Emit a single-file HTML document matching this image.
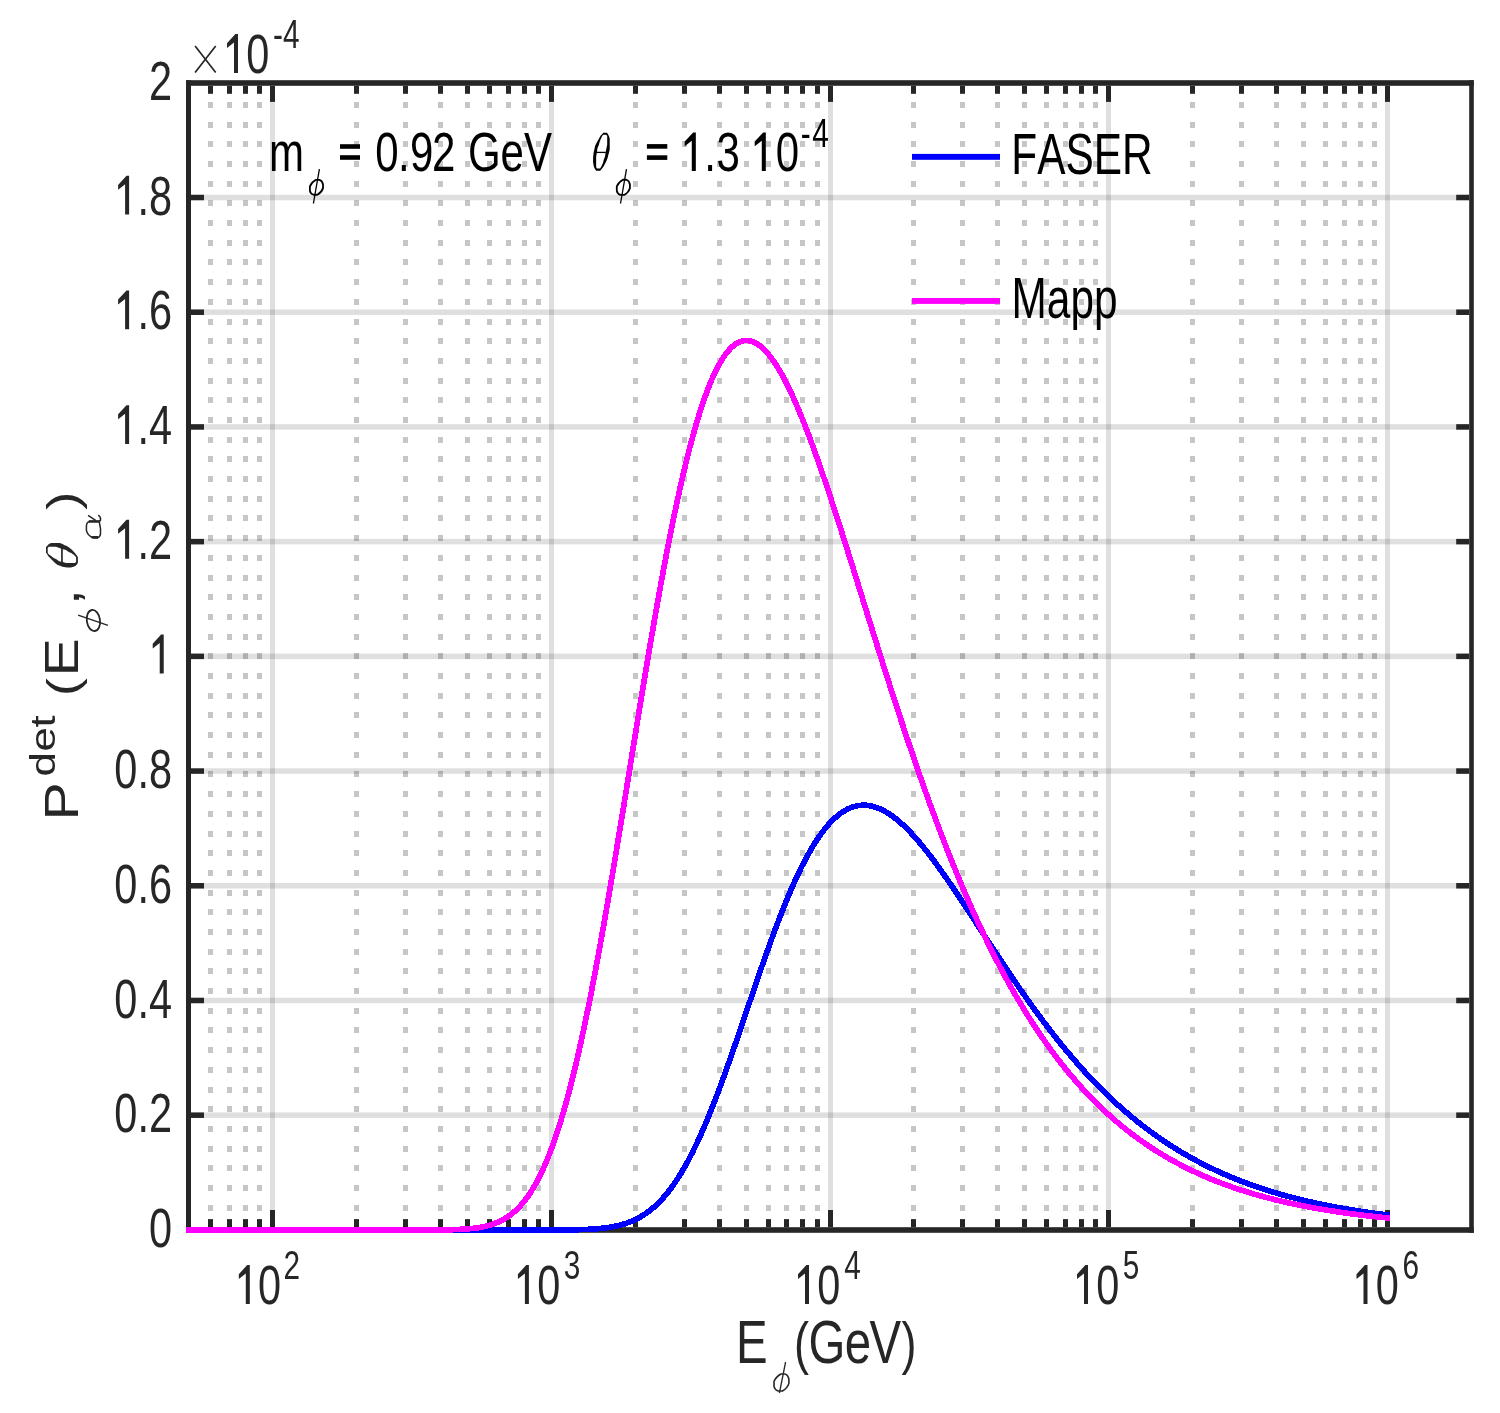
<!DOCTYPE html>
<html><head><meta charset="utf-8"><title>plot</title><style>
html,body{margin:0;padding:0;background:#fff;}
svg{display:block;will-change:transform;}
text{font-family:"Liberation Sans",sans-serif;}
</style></head><body>
<svg width="1500" height="1413" viewBox="0 0 1500 1413">
<rect x="0" y="0" width="1500" height="1413" fill="#ffffff"/>
<g fill="#262626" fill-opacity="0.15"><rect x="270" y="86" width="5" height="1141"/><rect x="549" y="86" width="5" height="1141"/><rect x="828" y="86" width="5" height="1141"/><rect x="1106" y="86" width="5" height="1141"/><rect x="1385" y="86" width="5" height="1141"/><rect x="191.0" y="1112.44" width="1278.2" height="5.5"/><rect x="191.0" y="997.73" width="1278.2" height="5.5"/><rect x="191.0" y="883.02" width="1278.2" height="5.5"/><rect x="191.0" y="768.31" width="1278.2" height="5.5"/><rect x="191.0" y="653.60" width="1278.2" height="5.5"/><rect x="191.0" y="538.89" width="1278.2" height="5.5"/><rect x="191.0" y="424.18" width="1278.2" height="5.5"/><rect x="191.0" y="309.47" width="1278.2" height="5.5"/><rect x="191.0" y="194.76" width="1278.2" height="5.5"/></g>
<g fill="#1a1a1a" fill-opacity="0.25" shape-rendering="crispEdges"><rect x="208" y="102" width="5" height="6"/><rect x="208" y="122" width="5" height="6"/><rect x="208" y="141" width="5" height="6"/><rect x="208" y="161" width="5" height="6"/><rect x="208" y="181" width="5" height="6"/><rect x="208" y="200" width="5" height="6"/><rect x="208" y="220" width="5" height="6"/><rect x="208" y="240" width="5" height="6"/><rect x="208" y="259" width="5" height="6"/><rect x="208" y="279" width="5" height="6"/><rect x="208" y="299" width="5" height="6"/><rect x="208" y="319" width="5" height="6"/><rect x="208" y="338" width="5" height="6"/><rect x="208" y="358" width="5" height="6"/><rect x="208" y="378" width="5" height="6"/><rect x="208" y="397" width="5" height="6"/><rect x="208" y="417" width="5" height="6"/><rect x="208" y="437" width="5" height="6"/><rect x="208" y="456" width="5" height="6"/><rect x="208" y="476" width="5" height="6"/><rect x="208" y="496" width="5" height="6"/><rect x="208" y="515" width="5" height="6"/><rect x="208" y="535" width="5" height="6"/><rect x="208" y="555" width="5" height="6"/><rect x="208" y="575" width="5" height="6"/><rect x="208" y="594" width="5" height="6"/><rect x="208" y="614" width="5" height="6"/><rect x="208" y="634" width="5" height="6"/><rect x="208" y="653" width="5" height="6"/><rect x="208" y="673" width="5" height="6"/><rect x="208" y="693" width="5" height="6"/><rect x="208" y="712" width="5" height="6"/><rect x="208" y="732" width="5" height="6"/><rect x="208" y="752" width="5" height="6"/><rect x="208" y="771" width="5" height="6"/><rect x="208" y="791" width="5" height="6"/><rect x="208" y="811" width="5" height="6"/><rect x="208" y="831" width="5" height="6"/><rect x="208" y="850" width="5" height="6"/><rect x="208" y="870" width="5" height="6"/><rect x="208" y="890" width="5" height="6"/><rect x="208" y="909" width="5" height="6"/><rect x="208" y="929" width="5" height="6"/><rect x="208" y="949" width="5" height="6"/><rect x="208" y="968" width="5" height="6"/><rect x="208" y="988" width="5" height="6"/><rect x="208" y="1008" width="5" height="6"/><rect x="208" y="1027" width="5" height="6"/><rect x="208" y="1047" width="5" height="6"/><rect x="208" y="1067" width="5" height="6"/><rect x="208" y="1087" width="5" height="6"/><rect x="208" y="1106" width="5" height="6"/><rect x="208" y="1126" width="5" height="6"/><rect x="208" y="1146" width="5" height="6"/><rect x="208" y="1165" width="5" height="6"/><rect x="208" y="1185" width="5" height="6"/><rect x="208" y="1205" width="5" height="6"/><rect x="227" y="102" width="5" height="6"/><rect x="227" y="122" width="5" height="6"/><rect x="227" y="141" width="5" height="6"/><rect x="227" y="161" width="5" height="6"/><rect x="227" y="181" width="5" height="6"/><rect x="227" y="200" width="5" height="6"/><rect x="227" y="220" width="5" height="6"/><rect x="227" y="240" width="5" height="6"/><rect x="227" y="259" width="5" height="6"/><rect x="227" y="279" width="5" height="6"/><rect x="227" y="299" width="5" height="6"/><rect x="227" y="319" width="5" height="6"/><rect x="227" y="338" width="5" height="6"/><rect x="227" y="358" width="5" height="6"/><rect x="227" y="378" width="5" height="6"/><rect x="227" y="397" width="5" height="6"/><rect x="227" y="417" width="5" height="6"/><rect x="227" y="437" width="5" height="6"/><rect x="227" y="456" width="5" height="6"/><rect x="227" y="476" width="5" height="6"/><rect x="227" y="496" width="5" height="6"/><rect x="227" y="515" width="5" height="6"/><rect x="227" y="535" width="5" height="6"/><rect x="227" y="555" width="5" height="6"/><rect x="227" y="575" width="5" height="6"/><rect x="227" y="594" width="5" height="6"/><rect x="227" y="614" width="5" height="6"/><rect x="227" y="634" width="5" height="6"/><rect x="227" y="653" width="5" height="6"/><rect x="227" y="673" width="5" height="6"/><rect x="227" y="693" width="5" height="6"/><rect x="227" y="712" width="5" height="6"/><rect x="227" y="732" width="5" height="6"/><rect x="227" y="752" width="5" height="6"/><rect x="227" y="771" width="5" height="6"/><rect x="227" y="791" width="5" height="6"/><rect x="227" y="811" width="5" height="6"/><rect x="227" y="831" width="5" height="6"/><rect x="227" y="850" width="5" height="6"/><rect x="227" y="870" width="5" height="6"/><rect x="227" y="890" width="5" height="6"/><rect x="227" y="909" width="5" height="6"/><rect x="227" y="929" width="5" height="6"/><rect x="227" y="949" width="5" height="6"/><rect x="227" y="968" width="5" height="6"/><rect x="227" y="988" width="5" height="6"/><rect x="227" y="1008" width="5" height="6"/><rect x="227" y="1027" width="5" height="6"/><rect x="227" y="1047" width="5" height="6"/><rect x="227" y="1067" width="5" height="6"/><rect x="227" y="1087" width="5" height="6"/><rect x="227" y="1106" width="5" height="6"/><rect x="227" y="1126" width="5" height="6"/><rect x="227" y="1146" width="5" height="6"/><rect x="227" y="1165" width="5" height="6"/><rect x="227" y="1185" width="5" height="6"/><rect x="227" y="1205" width="5" height="6"/><rect x="243" y="102" width="5" height="6"/><rect x="243" y="122" width="5" height="6"/><rect x="243" y="141" width="5" height="6"/><rect x="243" y="161" width="5" height="6"/><rect x="243" y="181" width="5" height="6"/><rect x="243" y="200" width="5" height="6"/><rect x="243" y="220" width="5" height="6"/><rect x="243" y="240" width="5" height="6"/><rect x="243" y="259" width="5" height="6"/><rect x="243" y="279" width="5" height="6"/><rect x="243" y="299" width="5" height="6"/><rect x="243" y="319" width="5" height="6"/><rect x="243" y="338" width="5" height="6"/><rect x="243" y="358" width="5" height="6"/><rect x="243" y="378" width="5" height="6"/><rect x="243" y="397" width="5" height="6"/><rect x="243" y="417" width="5" height="6"/><rect x="243" y="437" width="5" height="6"/><rect x="243" y="456" width="5" height="6"/><rect x="243" y="476" width="5" height="6"/><rect x="243" y="496" width="5" height="6"/><rect x="243" y="515" width="5" height="6"/><rect x="243" y="535" width="5" height="6"/><rect x="243" y="555" width="5" height="6"/><rect x="243" y="575" width="5" height="6"/><rect x="243" y="594" width="5" height="6"/><rect x="243" y="614" width="5" height="6"/><rect x="243" y="634" width="5" height="6"/><rect x="243" y="653" width="5" height="6"/><rect x="243" y="673" width="5" height="6"/><rect x="243" y="693" width="5" height="6"/><rect x="243" y="712" width="5" height="6"/><rect x="243" y="732" width="5" height="6"/><rect x="243" y="752" width="5" height="6"/><rect x="243" y="771" width="5" height="6"/><rect x="243" y="791" width="5" height="6"/><rect x="243" y="811" width="5" height="6"/><rect x="243" y="831" width="5" height="6"/><rect x="243" y="850" width="5" height="6"/><rect x="243" y="870" width="5" height="6"/><rect x="243" y="890" width="5" height="6"/><rect x="243" y="909" width="5" height="6"/><rect x="243" y="929" width="5" height="6"/><rect x="243" y="949" width="5" height="6"/><rect x="243" y="968" width="5" height="6"/><rect x="243" y="988" width="5" height="6"/><rect x="243" y="1008" width="5" height="6"/><rect x="243" y="1027" width="5" height="6"/><rect x="243" y="1047" width="5" height="6"/><rect x="243" y="1067" width="5" height="6"/><rect x="243" y="1087" width="5" height="6"/><rect x="243" y="1106" width="5" height="6"/><rect x="243" y="1126" width="5" height="6"/><rect x="243" y="1146" width="5" height="6"/><rect x="243" y="1165" width="5" height="6"/><rect x="243" y="1185" width="5" height="6"/><rect x="243" y="1205" width="5" height="6"/><rect x="257" y="102" width="5" height="6"/><rect x="257" y="122" width="5" height="6"/><rect x="257" y="141" width="5" height="6"/><rect x="257" y="161" width="5" height="6"/><rect x="257" y="181" width="5" height="6"/><rect x="257" y="200" width="5" height="6"/><rect x="257" y="220" width="5" height="6"/><rect x="257" y="240" width="5" height="6"/><rect x="257" y="259" width="5" height="6"/><rect x="257" y="279" width="5" height="6"/><rect x="257" y="299" width="5" height="6"/><rect x="257" y="319" width="5" height="6"/><rect x="257" y="338" width="5" height="6"/><rect x="257" y="358" width="5" height="6"/><rect x="257" y="378" width="5" height="6"/><rect x="257" y="397" width="5" height="6"/><rect x="257" y="417" width="5" height="6"/><rect x="257" y="437" width="5" height="6"/><rect x="257" y="456" width="5" height="6"/><rect x="257" y="476" width="5" height="6"/><rect x="257" y="496" width="5" height="6"/><rect x="257" y="515" width="5" height="6"/><rect x="257" y="535" width="5" height="6"/><rect x="257" y="555" width="5" height="6"/><rect x="257" y="575" width="5" height="6"/><rect x="257" y="594" width="5" height="6"/><rect x="257" y="614" width="5" height="6"/><rect x="257" y="634" width="5" height="6"/><rect x="257" y="653" width="5" height="6"/><rect x="257" y="673" width="5" height="6"/><rect x="257" y="693" width="5" height="6"/><rect x="257" y="712" width="5" height="6"/><rect x="257" y="732" width="5" height="6"/><rect x="257" y="752" width="5" height="6"/><rect x="257" y="771" width="5" height="6"/><rect x="257" y="791" width="5" height="6"/><rect x="257" y="811" width="5" height="6"/><rect x="257" y="831" width="5" height="6"/><rect x="257" y="850" width="5" height="6"/><rect x="257" y="870" width="5" height="6"/><rect x="257" y="890" width="5" height="6"/><rect x="257" y="909" width="5" height="6"/><rect x="257" y="929" width="5" height="6"/><rect x="257" y="949" width="5" height="6"/><rect x="257" y="968" width="5" height="6"/><rect x="257" y="988" width="5" height="6"/><rect x="257" y="1008" width="5" height="6"/><rect x="257" y="1027" width="5" height="6"/><rect x="257" y="1047" width="5" height="6"/><rect x="257" y="1067" width="5" height="6"/><rect x="257" y="1087" width="5" height="6"/><rect x="257" y="1106" width="5" height="6"/><rect x="257" y="1126" width="5" height="6"/><rect x="257" y="1146" width="5" height="6"/><rect x="257" y="1165" width="5" height="6"/><rect x="257" y="1185" width="5" height="6"/><rect x="257" y="1205" width="5" height="6"/><rect x="354" y="102" width="5" height="6"/><rect x="354" y="122" width="5" height="6"/><rect x="354" y="141" width="5" height="6"/><rect x="354" y="161" width="5" height="6"/><rect x="354" y="181" width="5" height="6"/><rect x="354" y="200" width="5" height="6"/><rect x="354" y="220" width="5" height="6"/><rect x="354" y="240" width="5" height="6"/><rect x="354" y="259" width="5" height="6"/><rect x="354" y="279" width="5" height="6"/><rect x="354" y="299" width="5" height="6"/><rect x="354" y="319" width="5" height="6"/><rect x="354" y="338" width="5" height="6"/><rect x="354" y="358" width="5" height="6"/><rect x="354" y="378" width="5" height="6"/><rect x="354" y="397" width="5" height="6"/><rect x="354" y="417" width="5" height="6"/><rect x="354" y="437" width="5" height="6"/><rect x="354" y="456" width="5" height="6"/><rect x="354" y="476" width="5" height="6"/><rect x="354" y="496" width="5" height="6"/><rect x="354" y="515" width="5" height="6"/><rect x="354" y="535" width="5" height="6"/><rect x="354" y="555" width="5" height="6"/><rect x="354" y="575" width="5" height="6"/><rect x="354" y="594" width="5" height="6"/><rect x="354" y="614" width="5" height="6"/><rect x="354" y="634" width="5" height="6"/><rect x="354" y="653" width="5" height="6"/><rect x="354" y="673" width="5" height="6"/><rect x="354" y="693" width="5" height="6"/><rect x="354" y="712" width="5" height="6"/><rect x="354" y="732" width="5" height="6"/><rect x="354" y="752" width="5" height="6"/><rect x="354" y="771" width="5" height="6"/><rect x="354" y="791" width="5" height="6"/><rect x="354" y="811" width="5" height="6"/><rect x="354" y="831" width="5" height="6"/><rect x="354" y="850" width="5" height="6"/><rect x="354" y="870" width="5" height="6"/><rect x="354" y="890" width="5" height="6"/><rect x="354" y="909" width="5" height="6"/><rect x="354" y="929" width="5" height="6"/><rect x="354" y="949" width="5" height="6"/><rect x="354" y="968" width="5" height="6"/><rect x="354" y="988" width="5" height="6"/><rect x="354" y="1008" width="5" height="6"/><rect x="354" y="1027" width="5" height="6"/><rect x="354" y="1047" width="5" height="6"/><rect x="354" y="1067" width="5" height="6"/><rect x="354" y="1087" width="5" height="6"/><rect x="354" y="1106" width="5" height="6"/><rect x="354" y="1126" width="5" height="6"/><rect x="354" y="1146" width="5" height="6"/><rect x="354" y="1165" width="5" height="6"/><rect x="354" y="1185" width="5" height="6"/><rect x="354" y="1205" width="5" height="6"/><rect x="403" y="102" width="5" height="6"/><rect x="403" y="122" width="5" height="6"/><rect x="403" y="141" width="5" height="6"/><rect x="403" y="161" width="5" height="6"/><rect x="403" y="181" width="5" height="6"/><rect x="403" y="200" width="5" height="6"/><rect x="403" y="220" width="5" height="6"/><rect x="403" y="240" width="5" height="6"/><rect x="403" y="259" width="5" height="6"/><rect x="403" y="279" width="5" height="6"/><rect x="403" y="299" width="5" height="6"/><rect x="403" y="319" width="5" height="6"/><rect x="403" y="338" width="5" height="6"/><rect x="403" y="358" width="5" height="6"/><rect x="403" y="378" width="5" height="6"/><rect x="403" y="397" width="5" height="6"/><rect x="403" y="417" width="5" height="6"/><rect x="403" y="437" width="5" height="6"/><rect x="403" y="456" width="5" height="6"/><rect x="403" y="476" width="5" height="6"/><rect x="403" y="496" width="5" height="6"/><rect x="403" y="515" width="5" height="6"/><rect x="403" y="535" width="5" height="6"/><rect x="403" y="555" width="5" height="6"/><rect x="403" y="575" width="5" height="6"/><rect x="403" y="594" width="5" height="6"/><rect x="403" y="614" width="5" height="6"/><rect x="403" y="634" width="5" height="6"/><rect x="403" y="653" width="5" height="6"/><rect x="403" y="673" width="5" height="6"/><rect x="403" y="693" width="5" height="6"/><rect x="403" y="712" width="5" height="6"/><rect x="403" y="732" width="5" height="6"/><rect x="403" y="752" width="5" height="6"/><rect x="403" y="771" width="5" height="6"/><rect x="403" y="791" width="5" height="6"/><rect x="403" y="811" width="5" height="6"/><rect x="403" y="831" width="5" height="6"/><rect x="403" y="850" width="5" height="6"/><rect x="403" y="870" width="5" height="6"/><rect x="403" y="890" width="5" height="6"/><rect x="403" y="909" width="5" height="6"/><rect x="403" y="929" width="5" height="6"/><rect x="403" y="949" width="5" height="6"/><rect x="403" y="968" width="5" height="6"/><rect x="403" y="988" width="5" height="6"/><rect x="403" y="1008" width="5" height="6"/><rect x="403" y="1027" width="5" height="6"/><rect x="403" y="1047" width="5" height="6"/><rect x="403" y="1067" width="5" height="6"/><rect x="403" y="1087" width="5" height="6"/><rect x="403" y="1106" width="5" height="6"/><rect x="403" y="1126" width="5" height="6"/><rect x="403" y="1146" width="5" height="6"/><rect x="403" y="1165" width="5" height="6"/><rect x="403" y="1185" width="5" height="6"/><rect x="403" y="1205" width="5" height="6"/><rect x="438" y="102" width="5" height="6"/><rect x="438" y="122" width="5" height="6"/><rect x="438" y="141" width="5" height="6"/><rect x="438" y="161" width="5" height="6"/><rect x="438" y="181" width="5" height="6"/><rect x="438" y="200" width="5" height="6"/><rect x="438" y="220" width="5" height="6"/><rect x="438" y="240" width="5" height="6"/><rect x="438" y="259" width="5" height="6"/><rect x="438" y="279" width="5" height="6"/><rect x="438" y="299" width="5" height="6"/><rect x="438" y="319" width="5" height="6"/><rect x="438" y="338" width="5" height="6"/><rect x="438" y="358" width="5" height="6"/><rect x="438" y="378" width="5" height="6"/><rect x="438" y="397" width="5" height="6"/><rect x="438" y="417" width="5" height="6"/><rect x="438" y="437" width="5" height="6"/><rect x="438" y="456" width="5" height="6"/><rect x="438" y="476" width="5" height="6"/><rect x="438" y="496" width="5" height="6"/><rect x="438" y="515" width="5" height="6"/><rect x="438" y="535" width="5" height="6"/><rect x="438" y="555" width="5" height="6"/><rect x="438" y="575" width="5" height="6"/><rect x="438" y="594" width="5" height="6"/><rect x="438" y="614" width="5" height="6"/><rect x="438" y="634" width="5" height="6"/><rect x="438" y="653" width="5" height="6"/><rect x="438" y="673" width="5" height="6"/><rect x="438" y="693" width="5" height="6"/><rect x="438" y="712" width="5" height="6"/><rect x="438" y="732" width="5" height="6"/><rect x="438" y="752" width="5" height="6"/><rect x="438" y="771" width="5" height="6"/><rect x="438" y="791" width="5" height="6"/><rect x="438" y="811" width="5" height="6"/><rect x="438" y="831" width="5" height="6"/><rect x="438" y="850" width="5" height="6"/><rect x="438" y="870" width="5" height="6"/><rect x="438" y="890" width="5" height="6"/><rect x="438" y="909" width="5" height="6"/><rect x="438" y="929" width="5" height="6"/><rect x="438" y="949" width="5" height="6"/><rect x="438" y="968" width="5" height="6"/><rect x="438" y="988" width="5" height="6"/><rect x="438" y="1008" width="5" height="6"/><rect x="438" y="1027" width="5" height="6"/><rect x="438" y="1047" width="5" height="6"/><rect x="438" y="1067" width="5" height="6"/><rect x="438" y="1087" width="5" height="6"/><rect x="438" y="1106" width="5" height="6"/><rect x="438" y="1126" width="5" height="6"/><rect x="438" y="1146" width="5" height="6"/><rect x="438" y="1165" width="5" height="6"/><rect x="438" y="1185" width="5" height="6"/><rect x="438" y="1205" width="5" height="6"/><rect x="465" y="102" width="5" height="6"/><rect x="465" y="122" width="5" height="6"/><rect x="465" y="141" width="5" height="6"/><rect x="465" y="161" width="5" height="6"/><rect x="465" y="181" width="5" height="6"/><rect x="465" y="200" width="5" height="6"/><rect x="465" y="220" width="5" height="6"/><rect x="465" y="240" width="5" height="6"/><rect x="465" y="259" width="5" height="6"/><rect x="465" y="279" width="5" height="6"/><rect x="465" y="299" width="5" height="6"/><rect x="465" y="319" width="5" height="6"/><rect x="465" y="338" width="5" height="6"/><rect x="465" y="358" width="5" height="6"/><rect x="465" y="378" width="5" height="6"/><rect x="465" y="397" width="5" height="6"/><rect x="465" y="417" width="5" height="6"/><rect x="465" y="437" width="5" height="6"/><rect x="465" y="456" width="5" height="6"/><rect x="465" y="476" width="5" height="6"/><rect x="465" y="496" width="5" height="6"/><rect x="465" y="515" width="5" height="6"/><rect x="465" y="535" width="5" height="6"/><rect x="465" y="555" width="5" height="6"/><rect x="465" y="575" width="5" height="6"/><rect x="465" y="594" width="5" height="6"/><rect x="465" y="614" width="5" height="6"/><rect x="465" y="634" width="5" height="6"/><rect x="465" y="653" width="5" height="6"/><rect x="465" y="673" width="5" height="6"/><rect x="465" y="693" width="5" height="6"/><rect x="465" y="712" width="5" height="6"/><rect x="465" y="732" width="5" height="6"/><rect x="465" y="752" width="5" height="6"/><rect x="465" y="771" width="5" height="6"/><rect x="465" y="791" width="5" height="6"/><rect x="465" y="811" width="5" height="6"/><rect x="465" y="831" width="5" height="6"/><rect x="465" y="850" width="5" height="6"/><rect x="465" y="870" width="5" height="6"/><rect x="465" y="890" width="5" height="6"/><rect x="465" y="909" width="5" height="6"/><rect x="465" y="929" width="5" height="6"/><rect x="465" y="949" width="5" height="6"/><rect x="465" y="968" width="5" height="6"/><rect x="465" y="988" width="5" height="6"/><rect x="465" y="1008" width="5" height="6"/><rect x="465" y="1027" width="5" height="6"/><rect x="465" y="1047" width="5" height="6"/><rect x="465" y="1067" width="5" height="6"/><rect x="465" y="1087" width="5" height="6"/><rect x="465" y="1106" width="5" height="6"/><rect x="465" y="1126" width="5" height="6"/><rect x="465" y="1146" width="5" height="6"/><rect x="465" y="1165" width="5" height="6"/><rect x="465" y="1185" width="5" height="6"/><rect x="465" y="1205" width="5" height="6"/><rect x="487" y="102" width="5" height="6"/><rect x="487" y="122" width="5" height="6"/><rect x="487" y="141" width="5" height="6"/><rect x="487" y="161" width="5" height="6"/><rect x="487" y="181" width="5" height="6"/><rect x="487" y="200" width="5" height="6"/><rect x="487" y="220" width="5" height="6"/><rect x="487" y="240" width="5" height="6"/><rect x="487" y="259" width="5" height="6"/><rect x="487" y="279" width="5" height="6"/><rect x="487" y="299" width="5" height="6"/><rect x="487" y="319" width="5" height="6"/><rect x="487" y="338" width="5" height="6"/><rect x="487" y="358" width="5" height="6"/><rect x="487" y="378" width="5" height="6"/><rect x="487" y="397" width="5" height="6"/><rect x="487" y="417" width="5" height="6"/><rect x="487" y="437" width="5" height="6"/><rect x="487" y="456" width="5" height="6"/><rect x="487" y="476" width="5" height="6"/><rect x="487" y="496" width="5" height="6"/><rect x="487" y="515" width="5" height="6"/><rect x="487" y="535" width="5" height="6"/><rect x="487" y="555" width="5" height="6"/><rect x="487" y="575" width="5" height="6"/><rect x="487" y="594" width="5" height="6"/><rect x="487" y="614" width="5" height="6"/><rect x="487" y="634" width="5" height="6"/><rect x="487" y="653" width="5" height="6"/><rect x="487" y="673" width="5" height="6"/><rect x="487" y="693" width="5" height="6"/><rect x="487" y="712" width="5" height="6"/><rect x="487" y="732" width="5" height="6"/><rect x="487" y="752" width="5" height="6"/><rect x="487" y="771" width="5" height="6"/><rect x="487" y="791" width="5" height="6"/><rect x="487" y="811" width="5" height="6"/><rect x="487" y="831" width="5" height="6"/><rect x="487" y="850" width="5" height="6"/><rect x="487" y="870" width="5" height="6"/><rect x="487" y="890" width="5" height="6"/><rect x="487" y="909" width="5" height="6"/><rect x="487" y="929" width="5" height="6"/><rect x="487" y="949" width="5" height="6"/><rect x="487" y="968" width="5" height="6"/><rect x="487" y="988" width="5" height="6"/><rect x="487" y="1008" width="5" height="6"/><rect x="487" y="1027" width="5" height="6"/><rect x="487" y="1047" width="5" height="6"/><rect x="487" y="1067" width="5" height="6"/><rect x="487" y="1087" width="5" height="6"/><rect x="487" y="1106" width="5" height="6"/><rect x="487" y="1126" width="5" height="6"/><rect x="487" y="1146" width="5" height="6"/><rect x="487" y="1165" width="5" height="6"/><rect x="487" y="1185" width="5" height="6"/><rect x="487" y="1205" width="5" height="6"/><rect x="506" y="102" width="5" height="6"/><rect x="506" y="122" width="5" height="6"/><rect x="506" y="141" width="5" height="6"/><rect x="506" y="161" width="5" height="6"/><rect x="506" y="181" width="5" height="6"/><rect x="506" y="200" width="5" height="6"/><rect x="506" y="220" width="5" height="6"/><rect x="506" y="240" width="5" height="6"/><rect x="506" y="259" width="5" height="6"/><rect x="506" y="279" width="5" height="6"/><rect x="506" y="299" width="5" height="6"/><rect x="506" y="319" width="5" height="6"/><rect x="506" y="338" width="5" height="6"/><rect x="506" y="358" width="5" height="6"/><rect x="506" y="378" width="5" height="6"/><rect x="506" y="397" width="5" height="6"/><rect x="506" y="417" width="5" height="6"/><rect x="506" y="437" width="5" height="6"/><rect x="506" y="456" width="5" height="6"/><rect x="506" y="476" width="5" height="6"/><rect x="506" y="496" width="5" height="6"/><rect x="506" y="515" width="5" height="6"/><rect x="506" y="535" width="5" height="6"/><rect x="506" y="555" width="5" height="6"/><rect x="506" y="575" width="5" height="6"/><rect x="506" y="594" width="5" height="6"/><rect x="506" y="614" width="5" height="6"/><rect x="506" y="634" width="5" height="6"/><rect x="506" y="653" width="5" height="6"/><rect x="506" y="673" width="5" height="6"/><rect x="506" y="693" width="5" height="6"/><rect x="506" y="712" width="5" height="6"/><rect x="506" y="732" width="5" height="6"/><rect x="506" y="752" width="5" height="6"/><rect x="506" y="771" width="5" height="6"/><rect x="506" y="791" width="5" height="6"/><rect x="506" y="811" width="5" height="6"/><rect x="506" y="831" width="5" height="6"/><rect x="506" y="850" width="5" height="6"/><rect x="506" y="870" width="5" height="6"/><rect x="506" y="890" width="5" height="6"/><rect x="506" y="909" width="5" height="6"/><rect x="506" y="929" width="5" height="6"/><rect x="506" y="949" width="5" height="6"/><rect x="506" y="968" width="5" height="6"/><rect x="506" y="988" width="5" height="6"/><rect x="506" y="1008" width="5" height="6"/><rect x="506" y="1027" width="5" height="6"/><rect x="506" y="1047" width="5" height="6"/><rect x="506" y="1067" width="5" height="6"/><rect x="506" y="1087" width="5" height="6"/><rect x="506" y="1106" width="5" height="6"/><rect x="506" y="1126" width="5" height="6"/><rect x="506" y="1146" width="5" height="6"/><rect x="506" y="1165" width="5" height="6"/><rect x="506" y="1185" width="5" height="6"/><rect x="506" y="1205" width="5" height="6"/><rect x="522" y="102" width="5" height="6"/><rect x="522" y="122" width="5" height="6"/><rect x="522" y="141" width="5" height="6"/><rect x="522" y="161" width="5" height="6"/><rect x="522" y="181" width="5" height="6"/><rect x="522" y="200" width="5" height="6"/><rect x="522" y="220" width="5" height="6"/><rect x="522" y="240" width="5" height="6"/><rect x="522" y="259" width="5" height="6"/><rect x="522" y="279" width="5" height="6"/><rect x="522" y="299" width="5" height="6"/><rect x="522" y="319" width="5" height="6"/><rect x="522" y="338" width="5" height="6"/><rect x="522" y="358" width="5" height="6"/><rect x="522" y="378" width="5" height="6"/><rect x="522" y="397" width="5" height="6"/><rect x="522" y="417" width="5" height="6"/><rect x="522" y="437" width="5" height="6"/><rect x="522" y="456" width="5" height="6"/><rect x="522" y="476" width="5" height="6"/><rect x="522" y="496" width="5" height="6"/><rect x="522" y="515" width="5" height="6"/><rect x="522" y="535" width="5" height="6"/><rect x="522" y="555" width="5" height="6"/><rect x="522" y="575" width="5" height="6"/><rect x="522" y="594" width="5" height="6"/><rect x="522" y="614" width="5" height="6"/><rect x="522" y="634" width="5" height="6"/><rect x="522" y="653" width="5" height="6"/><rect x="522" y="673" width="5" height="6"/><rect x="522" y="693" width="5" height="6"/><rect x="522" y="712" width="5" height="6"/><rect x="522" y="732" width="5" height="6"/><rect x="522" y="752" width="5" height="6"/><rect x="522" y="771" width="5" height="6"/><rect x="522" y="791" width="5" height="6"/><rect x="522" y="811" width="5" height="6"/><rect x="522" y="831" width="5" height="6"/><rect x="522" y="850" width="5" height="6"/><rect x="522" y="870" width="5" height="6"/><rect x="522" y="890" width="5" height="6"/><rect x="522" y="909" width="5" height="6"/><rect x="522" y="929" width="5" height="6"/><rect x="522" y="949" width="5" height="6"/><rect x="522" y="968" width="5" height="6"/><rect x="522" y="988" width="5" height="6"/><rect x="522" y="1008" width="5" height="6"/><rect x="522" y="1027" width="5" height="6"/><rect x="522" y="1047" width="5" height="6"/><rect x="522" y="1067" width="5" height="6"/><rect x="522" y="1087" width="5" height="6"/><rect x="522" y="1106" width="5" height="6"/><rect x="522" y="1126" width="5" height="6"/><rect x="522" y="1146" width="5" height="6"/><rect x="522" y="1165" width="5" height="6"/><rect x="522" y="1185" width="5" height="6"/><rect x="522" y="1205" width="5" height="6"/><rect x="536" y="102" width="5" height="6"/><rect x="536" y="122" width="5" height="6"/><rect x="536" y="141" width="5" height="6"/><rect x="536" y="161" width="5" height="6"/><rect x="536" y="181" width="5" height="6"/><rect x="536" y="200" width="5" height="6"/><rect x="536" y="220" width="5" height="6"/><rect x="536" y="240" width="5" height="6"/><rect x="536" y="259" width="5" height="6"/><rect x="536" y="279" width="5" height="6"/><rect x="536" y="299" width="5" height="6"/><rect x="536" y="319" width="5" height="6"/><rect x="536" y="338" width="5" height="6"/><rect x="536" y="358" width="5" height="6"/><rect x="536" y="378" width="5" height="6"/><rect x="536" y="397" width="5" height="6"/><rect x="536" y="417" width="5" height="6"/><rect x="536" y="437" width="5" height="6"/><rect x="536" y="456" width="5" height="6"/><rect x="536" y="476" width="5" height="6"/><rect x="536" y="496" width="5" height="6"/><rect x="536" y="515" width="5" height="6"/><rect x="536" y="535" width="5" height="6"/><rect x="536" y="555" width="5" height="6"/><rect x="536" y="575" width="5" height="6"/><rect x="536" y="594" width="5" height="6"/><rect x="536" y="614" width="5" height="6"/><rect x="536" y="634" width="5" height="6"/><rect x="536" y="653" width="5" height="6"/><rect x="536" y="673" width="5" height="6"/><rect x="536" y="693" width="5" height="6"/><rect x="536" y="712" width="5" height="6"/><rect x="536" y="732" width="5" height="6"/><rect x="536" y="752" width="5" height="6"/><rect x="536" y="771" width="5" height="6"/><rect x="536" y="791" width="5" height="6"/><rect x="536" y="811" width="5" height="6"/><rect x="536" y="831" width="5" height="6"/><rect x="536" y="850" width="5" height="6"/><rect x="536" y="870" width="5" height="6"/><rect x="536" y="890" width="5" height="6"/><rect x="536" y="909" width="5" height="6"/><rect x="536" y="929" width="5" height="6"/><rect x="536" y="949" width="5" height="6"/><rect x="536" y="968" width="5" height="6"/><rect x="536" y="988" width="5" height="6"/><rect x="536" y="1008" width="5" height="6"/><rect x="536" y="1027" width="5" height="6"/><rect x="536" y="1047" width="5" height="6"/><rect x="536" y="1067" width="5" height="6"/><rect x="536" y="1087" width="5" height="6"/><rect x="536" y="1106" width="5" height="6"/><rect x="536" y="1126" width="5" height="6"/><rect x="536" y="1146" width="5" height="6"/><rect x="536" y="1165" width="5" height="6"/><rect x="536" y="1185" width="5" height="6"/><rect x="536" y="1205" width="5" height="6"/><rect x="633" y="102" width="5" height="6"/><rect x="633" y="122" width="5" height="6"/><rect x="633" y="141" width="5" height="6"/><rect x="633" y="161" width="5" height="6"/><rect x="633" y="181" width="5" height="6"/><rect x="633" y="200" width="5" height="6"/><rect x="633" y="220" width="5" height="6"/><rect x="633" y="240" width="5" height="6"/><rect x="633" y="259" width="5" height="6"/><rect x="633" y="279" width="5" height="6"/><rect x="633" y="299" width="5" height="6"/><rect x="633" y="319" width="5" height="6"/><rect x="633" y="338" width="5" height="6"/><rect x="633" y="358" width="5" height="6"/><rect x="633" y="378" width="5" height="6"/><rect x="633" y="397" width="5" height="6"/><rect x="633" y="417" width="5" height="6"/><rect x="633" y="437" width="5" height="6"/><rect x="633" y="456" width="5" height="6"/><rect x="633" y="476" width="5" height="6"/><rect x="633" y="496" width="5" height="6"/><rect x="633" y="515" width="5" height="6"/><rect x="633" y="535" width="5" height="6"/><rect x="633" y="555" width="5" height="6"/><rect x="633" y="575" width="5" height="6"/><rect x="633" y="594" width="5" height="6"/><rect x="633" y="614" width="5" height="6"/><rect x="633" y="634" width="5" height="6"/><rect x="633" y="653" width="5" height="6"/><rect x="633" y="673" width="5" height="6"/><rect x="633" y="693" width="5" height="6"/><rect x="633" y="712" width="5" height="6"/><rect x="633" y="732" width="5" height="6"/><rect x="633" y="752" width="5" height="6"/><rect x="633" y="771" width="5" height="6"/><rect x="633" y="791" width="5" height="6"/><rect x="633" y="811" width="5" height="6"/><rect x="633" y="831" width="5" height="6"/><rect x="633" y="850" width="5" height="6"/><rect x="633" y="870" width="5" height="6"/><rect x="633" y="890" width="5" height="6"/><rect x="633" y="909" width="5" height="6"/><rect x="633" y="929" width="5" height="6"/><rect x="633" y="949" width="5" height="6"/><rect x="633" y="968" width="5" height="6"/><rect x="633" y="988" width="5" height="6"/><rect x="633" y="1008" width="5" height="6"/><rect x="633" y="1027" width="5" height="6"/><rect x="633" y="1047" width="5" height="6"/><rect x="633" y="1067" width="5" height="6"/><rect x="633" y="1087" width="5" height="6"/><rect x="633" y="1106" width="5" height="6"/><rect x="633" y="1126" width="5" height="6"/><rect x="633" y="1146" width="5" height="6"/><rect x="633" y="1165" width="5" height="6"/><rect x="633" y="1185" width="5" height="6"/><rect x="633" y="1205" width="5" height="6"/><rect x="682" y="102" width="5" height="6"/><rect x="682" y="122" width="5" height="6"/><rect x="682" y="141" width="5" height="6"/><rect x="682" y="161" width="5" height="6"/><rect x="682" y="181" width="5" height="6"/><rect x="682" y="200" width="5" height="6"/><rect x="682" y="220" width="5" height="6"/><rect x="682" y="240" width="5" height="6"/><rect x="682" y="259" width="5" height="6"/><rect x="682" y="279" width="5" height="6"/><rect x="682" y="299" width="5" height="6"/><rect x="682" y="319" width="5" height="6"/><rect x="682" y="338" width="5" height="6"/><rect x="682" y="358" width="5" height="6"/><rect x="682" y="378" width="5" height="6"/><rect x="682" y="397" width="5" height="6"/><rect x="682" y="417" width="5" height="6"/><rect x="682" y="437" width="5" height="6"/><rect x="682" y="456" width="5" height="6"/><rect x="682" y="476" width="5" height="6"/><rect x="682" y="496" width="5" height="6"/><rect x="682" y="515" width="5" height="6"/><rect x="682" y="535" width="5" height="6"/><rect x="682" y="555" width="5" height="6"/><rect x="682" y="575" width="5" height="6"/><rect x="682" y="594" width="5" height="6"/><rect x="682" y="614" width="5" height="6"/><rect x="682" y="634" width="5" height="6"/><rect x="682" y="653" width="5" height="6"/><rect x="682" y="673" width="5" height="6"/><rect x="682" y="693" width="5" height="6"/><rect x="682" y="712" width="5" height="6"/><rect x="682" y="732" width="5" height="6"/><rect x="682" y="752" width="5" height="6"/><rect x="682" y="771" width="5" height="6"/><rect x="682" y="791" width="5" height="6"/><rect x="682" y="811" width="5" height="6"/><rect x="682" y="831" width="5" height="6"/><rect x="682" y="850" width="5" height="6"/><rect x="682" y="870" width="5" height="6"/><rect x="682" y="890" width="5" height="6"/><rect x="682" y="909" width="5" height="6"/><rect x="682" y="929" width="5" height="6"/><rect x="682" y="949" width="5" height="6"/><rect x="682" y="968" width="5" height="6"/><rect x="682" y="988" width="5" height="6"/><rect x="682" y="1008" width="5" height="6"/><rect x="682" y="1027" width="5" height="6"/><rect x="682" y="1047" width="5" height="6"/><rect x="682" y="1067" width="5" height="6"/><rect x="682" y="1087" width="5" height="6"/><rect x="682" y="1106" width="5" height="6"/><rect x="682" y="1126" width="5" height="6"/><rect x="682" y="1146" width="5" height="6"/><rect x="682" y="1165" width="5" height="6"/><rect x="682" y="1185" width="5" height="6"/><rect x="682" y="1205" width="5" height="6"/><rect x="717" y="102" width="5" height="6"/><rect x="717" y="122" width="5" height="6"/><rect x="717" y="141" width="5" height="6"/><rect x="717" y="161" width="5" height="6"/><rect x="717" y="181" width="5" height="6"/><rect x="717" y="200" width="5" height="6"/><rect x="717" y="220" width="5" height="6"/><rect x="717" y="240" width="5" height="6"/><rect x="717" y="259" width="5" height="6"/><rect x="717" y="279" width="5" height="6"/><rect x="717" y="299" width="5" height="6"/><rect x="717" y="319" width="5" height="6"/><rect x="717" y="338" width="5" height="6"/><rect x="717" y="358" width="5" height="6"/><rect x="717" y="378" width="5" height="6"/><rect x="717" y="397" width="5" height="6"/><rect x="717" y="417" width="5" height="6"/><rect x="717" y="437" width="5" height="6"/><rect x="717" y="456" width="5" height="6"/><rect x="717" y="476" width="5" height="6"/><rect x="717" y="496" width="5" height="6"/><rect x="717" y="515" width="5" height="6"/><rect x="717" y="535" width="5" height="6"/><rect x="717" y="555" width="5" height="6"/><rect x="717" y="575" width="5" height="6"/><rect x="717" y="594" width="5" height="6"/><rect x="717" y="614" width="5" height="6"/><rect x="717" y="634" width="5" height="6"/><rect x="717" y="653" width="5" height="6"/><rect x="717" y="673" width="5" height="6"/><rect x="717" y="693" width="5" height="6"/><rect x="717" y="712" width="5" height="6"/><rect x="717" y="732" width="5" height="6"/><rect x="717" y="752" width="5" height="6"/><rect x="717" y="771" width="5" height="6"/><rect x="717" y="791" width="5" height="6"/><rect x="717" y="811" width="5" height="6"/><rect x="717" y="831" width="5" height="6"/><rect x="717" y="850" width="5" height="6"/><rect x="717" y="870" width="5" height="6"/><rect x="717" y="890" width="5" height="6"/><rect x="717" y="909" width="5" height="6"/><rect x="717" y="929" width="5" height="6"/><rect x="717" y="949" width="5" height="6"/><rect x="717" y="968" width="5" height="6"/><rect x="717" y="988" width="5" height="6"/><rect x="717" y="1008" width="5" height="6"/><rect x="717" y="1027" width="5" height="6"/><rect x="717" y="1047" width="5" height="6"/><rect x="717" y="1067" width="5" height="6"/><rect x="717" y="1087" width="5" height="6"/><rect x="717" y="1106" width="5" height="6"/><rect x="717" y="1126" width="5" height="6"/><rect x="717" y="1146" width="5" height="6"/><rect x="717" y="1165" width="5" height="6"/><rect x="717" y="1185" width="5" height="6"/><rect x="717" y="1205" width="5" height="6"/><rect x="744" y="102" width="5" height="6"/><rect x="744" y="122" width="5" height="6"/><rect x="744" y="141" width="5" height="6"/><rect x="744" y="161" width="5" height="6"/><rect x="744" y="181" width="5" height="6"/><rect x="744" y="200" width="5" height="6"/><rect x="744" y="220" width="5" height="6"/><rect x="744" y="240" width="5" height="6"/><rect x="744" y="259" width="5" height="6"/><rect x="744" y="279" width="5" height="6"/><rect x="744" y="299" width="5" height="6"/><rect x="744" y="319" width="5" height="6"/><rect x="744" y="338" width="5" height="6"/><rect x="744" y="358" width="5" height="6"/><rect x="744" y="378" width="5" height="6"/><rect x="744" y="397" width="5" height="6"/><rect x="744" y="417" width="5" height="6"/><rect x="744" y="437" width="5" height="6"/><rect x="744" y="456" width="5" height="6"/><rect x="744" y="476" width="5" height="6"/><rect x="744" y="496" width="5" height="6"/><rect x="744" y="515" width="5" height="6"/><rect x="744" y="535" width="5" height="6"/><rect x="744" y="555" width="5" height="6"/><rect x="744" y="575" width="5" height="6"/><rect x="744" y="594" width="5" height="6"/><rect x="744" y="614" width="5" height="6"/><rect x="744" y="634" width="5" height="6"/><rect x="744" y="653" width="5" height="6"/><rect x="744" y="673" width="5" height="6"/><rect x="744" y="693" width="5" height="6"/><rect x="744" y="712" width="5" height="6"/><rect x="744" y="732" width="5" height="6"/><rect x="744" y="752" width="5" height="6"/><rect x="744" y="771" width="5" height="6"/><rect x="744" y="791" width="5" height="6"/><rect x="744" y="811" width="5" height="6"/><rect x="744" y="831" width="5" height="6"/><rect x="744" y="850" width="5" height="6"/><rect x="744" y="870" width="5" height="6"/><rect x="744" y="890" width="5" height="6"/><rect x="744" y="909" width="5" height="6"/><rect x="744" y="929" width="5" height="6"/><rect x="744" y="949" width="5" height="6"/><rect x="744" y="968" width="5" height="6"/><rect x="744" y="988" width="5" height="6"/><rect x="744" y="1008" width="5" height="6"/><rect x="744" y="1027" width="5" height="6"/><rect x="744" y="1047" width="5" height="6"/><rect x="744" y="1067" width="5" height="6"/><rect x="744" y="1087" width="5" height="6"/><rect x="744" y="1106" width="5" height="6"/><rect x="744" y="1126" width="5" height="6"/><rect x="744" y="1146" width="5" height="6"/><rect x="744" y="1165" width="5" height="6"/><rect x="744" y="1185" width="5" height="6"/><rect x="744" y="1205" width="5" height="6"/><rect x="766" y="102" width="5" height="6"/><rect x="766" y="122" width="5" height="6"/><rect x="766" y="141" width="5" height="6"/><rect x="766" y="161" width="5" height="6"/><rect x="766" y="181" width="5" height="6"/><rect x="766" y="200" width="5" height="6"/><rect x="766" y="220" width="5" height="6"/><rect x="766" y="240" width="5" height="6"/><rect x="766" y="259" width="5" height="6"/><rect x="766" y="279" width="5" height="6"/><rect x="766" y="299" width="5" height="6"/><rect x="766" y="319" width="5" height="6"/><rect x="766" y="338" width="5" height="6"/><rect x="766" y="358" width="5" height="6"/><rect x="766" y="378" width="5" height="6"/><rect x="766" y="397" width="5" height="6"/><rect x="766" y="417" width="5" height="6"/><rect x="766" y="437" width="5" height="6"/><rect x="766" y="456" width="5" height="6"/><rect x="766" y="476" width="5" height="6"/><rect x="766" y="496" width="5" height="6"/><rect x="766" y="515" width="5" height="6"/><rect x="766" y="535" width="5" height="6"/><rect x="766" y="555" width="5" height="6"/><rect x="766" y="575" width="5" height="6"/><rect x="766" y="594" width="5" height="6"/><rect x="766" y="614" width="5" height="6"/><rect x="766" y="634" width="5" height="6"/><rect x="766" y="653" width="5" height="6"/><rect x="766" y="673" width="5" height="6"/><rect x="766" y="693" width="5" height="6"/><rect x="766" y="712" width="5" height="6"/><rect x="766" y="732" width="5" height="6"/><rect x="766" y="752" width="5" height="6"/><rect x="766" y="771" width="5" height="6"/><rect x="766" y="791" width="5" height="6"/><rect x="766" y="811" width="5" height="6"/><rect x="766" y="831" width="5" height="6"/><rect x="766" y="850" width="5" height="6"/><rect x="766" y="870" width="5" height="6"/><rect x="766" y="890" width="5" height="6"/><rect x="766" y="909" width="5" height="6"/><rect x="766" y="929" width="5" height="6"/><rect x="766" y="949" width="5" height="6"/><rect x="766" y="968" width="5" height="6"/><rect x="766" y="988" width="5" height="6"/><rect x="766" y="1008" width="5" height="6"/><rect x="766" y="1027" width="5" height="6"/><rect x="766" y="1047" width="5" height="6"/><rect x="766" y="1067" width="5" height="6"/><rect x="766" y="1087" width="5" height="6"/><rect x="766" y="1106" width="5" height="6"/><rect x="766" y="1126" width="5" height="6"/><rect x="766" y="1146" width="5" height="6"/><rect x="766" y="1165" width="5" height="6"/><rect x="766" y="1185" width="5" height="6"/><rect x="766" y="1205" width="5" height="6"/><rect x="784" y="102" width="5" height="6"/><rect x="784" y="122" width="5" height="6"/><rect x="784" y="141" width="5" height="6"/><rect x="784" y="161" width="5" height="6"/><rect x="784" y="181" width="5" height="6"/><rect x="784" y="200" width="5" height="6"/><rect x="784" y="220" width="5" height="6"/><rect x="784" y="240" width="5" height="6"/><rect x="784" y="259" width="5" height="6"/><rect x="784" y="279" width="5" height="6"/><rect x="784" y="299" width="5" height="6"/><rect x="784" y="319" width="5" height="6"/><rect x="784" y="338" width="5" height="6"/><rect x="784" y="358" width="5" height="6"/><rect x="784" y="378" width="5" height="6"/><rect x="784" y="397" width="5" height="6"/><rect x="784" y="417" width="5" height="6"/><rect x="784" y="437" width="5" height="6"/><rect x="784" y="456" width="5" height="6"/><rect x="784" y="476" width="5" height="6"/><rect x="784" y="496" width="5" height="6"/><rect x="784" y="515" width="5" height="6"/><rect x="784" y="535" width="5" height="6"/><rect x="784" y="555" width="5" height="6"/><rect x="784" y="575" width="5" height="6"/><rect x="784" y="594" width="5" height="6"/><rect x="784" y="614" width="5" height="6"/><rect x="784" y="634" width="5" height="6"/><rect x="784" y="653" width="5" height="6"/><rect x="784" y="673" width="5" height="6"/><rect x="784" y="693" width="5" height="6"/><rect x="784" y="712" width="5" height="6"/><rect x="784" y="732" width="5" height="6"/><rect x="784" y="752" width="5" height="6"/><rect x="784" y="771" width="5" height="6"/><rect x="784" y="791" width="5" height="6"/><rect x="784" y="811" width="5" height="6"/><rect x="784" y="831" width="5" height="6"/><rect x="784" y="850" width="5" height="6"/><rect x="784" y="870" width="5" height="6"/><rect x="784" y="890" width="5" height="6"/><rect x="784" y="909" width="5" height="6"/><rect x="784" y="929" width="5" height="6"/><rect x="784" y="949" width="5" height="6"/><rect x="784" y="968" width="5" height="6"/><rect x="784" y="988" width="5" height="6"/><rect x="784" y="1008" width="5" height="6"/><rect x="784" y="1027" width="5" height="6"/><rect x="784" y="1047" width="5" height="6"/><rect x="784" y="1067" width="5" height="6"/><rect x="784" y="1087" width="5" height="6"/><rect x="784" y="1106" width="5" height="6"/><rect x="784" y="1126" width="5" height="6"/><rect x="784" y="1146" width="5" height="6"/><rect x="784" y="1165" width="5" height="6"/><rect x="784" y="1185" width="5" height="6"/><rect x="784" y="1205" width="5" height="6"/><rect x="800" y="102" width="5" height="6"/><rect x="800" y="122" width="5" height="6"/><rect x="800" y="141" width="5" height="6"/><rect x="800" y="161" width="5" height="6"/><rect x="800" y="181" width="5" height="6"/><rect x="800" y="200" width="5" height="6"/><rect x="800" y="220" width="5" height="6"/><rect x="800" y="240" width="5" height="6"/><rect x="800" y="259" width="5" height="6"/><rect x="800" y="279" width="5" height="6"/><rect x="800" y="299" width="5" height="6"/><rect x="800" y="319" width="5" height="6"/><rect x="800" y="338" width="5" height="6"/><rect x="800" y="358" width="5" height="6"/><rect x="800" y="378" width="5" height="6"/><rect x="800" y="397" width="5" height="6"/><rect x="800" y="417" width="5" height="6"/><rect x="800" y="437" width="5" height="6"/><rect x="800" y="456" width="5" height="6"/><rect x="800" y="476" width="5" height="6"/><rect x="800" y="496" width="5" height="6"/><rect x="800" y="515" width="5" height="6"/><rect x="800" y="535" width="5" height="6"/><rect x="800" y="555" width="5" height="6"/><rect x="800" y="575" width="5" height="6"/><rect x="800" y="594" width="5" height="6"/><rect x="800" y="614" width="5" height="6"/><rect x="800" y="634" width="5" height="6"/><rect x="800" y="653" width="5" height="6"/><rect x="800" y="673" width="5" height="6"/><rect x="800" y="693" width="5" height="6"/><rect x="800" y="712" width="5" height="6"/><rect x="800" y="732" width="5" height="6"/><rect x="800" y="752" width="5" height="6"/><rect x="800" y="771" width="5" height="6"/><rect x="800" y="791" width="5" height="6"/><rect x="800" y="811" width="5" height="6"/><rect x="800" y="831" width="5" height="6"/><rect x="800" y="850" width="5" height="6"/><rect x="800" y="870" width="5" height="6"/><rect x="800" y="890" width="5" height="6"/><rect x="800" y="909" width="5" height="6"/><rect x="800" y="929" width="5" height="6"/><rect x="800" y="949" width="5" height="6"/><rect x="800" y="968" width="5" height="6"/><rect x="800" y="988" width="5" height="6"/><rect x="800" y="1008" width="5" height="6"/><rect x="800" y="1027" width="5" height="6"/><rect x="800" y="1047" width="5" height="6"/><rect x="800" y="1067" width="5" height="6"/><rect x="800" y="1087" width="5" height="6"/><rect x="800" y="1106" width="5" height="6"/><rect x="800" y="1126" width="5" height="6"/><rect x="800" y="1146" width="5" height="6"/><rect x="800" y="1165" width="5" height="6"/><rect x="800" y="1185" width="5" height="6"/><rect x="800" y="1205" width="5" height="6"/><rect x="815" y="102" width="5" height="6"/><rect x="815" y="122" width="5" height="6"/><rect x="815" y="141" width="5" height="6"/><rect x="815" y="161" width="5" height="6"/><rect x="815" y="181" width="5" height="6"/><rect x="815" y="200" width="5" height="6"/><rect x="815" y="220" width="5" height="6"/><rect x="815" y="240" width="5" height="6"/><rect x="815" y="259" width="5" height="6"/><rect x="815" y="279" width="5" height="6"/><rect x="815" y="299" width="5" height="6"/><rect x="815" y="319" width="5" height="6"/><rect x="815" y="338" width="5" height="6"/><rect x="815" y="358" width="5" height="6"/><rect x="815" y="378" width="5" height="6"/><rect x="815" y="397" width="5" height="6"/><rect x="815" y="417" width="5" height="6"/><rect x="815" y="437" width="5" height="6"/><rect x="815" y="456" width="5" height="6"/><rect x="815" y="476" width="5" height="6"/><rect x="815" y="496" width="5" height="6"/><rect x="815" y="515" width="5" height="6"/><rect x="815" y="535" width="5" height="6"/><rect x="815" y="555" width="5" height="6"/><rect x="815" y="575" width="5" height="6"/><rect x="815" y="594" width="5" height="6"/><rect x="815" y="614" width="5" height="6"/><rect x="815" y="634" width="5" height="6"/><rect x="815" y="653" width="5" height="6"/><rect x="815" y="673" width="5" height="6"/><rect x="815" y="693" width="5" height="6"/><rect x="815" y="712" width="5" height="6"/><rect x="815" y="732" width="5" height="6"/><rect x="815" y="752" width="5" height="6"/><rect x="815" y="771" width="5" height="6"/><rect x="815" y="791" width="5" height="6"/><rect x="815" y="811" width="5" height="6"/><rect x="815" y="831" width="5" height="6"/><rect x="815" y="850" width="5" height="6"/><rect x="815" y="870" width="5" height="6"/><rect x="815" y="890" width="5" height="6"/><rect x="815" y="909" width="5" height="6"/><rect x="815" y="929" width="5" height="6"/><rect x="815" y="949" width="5" height="6"/><rect x="815" y="968" width="5" height="6"/><rect x="815" y="988" width="5" height="6"/><rect x="815" y="1008" width="5" height="6"/><rect x="815" y="1027" width="5" height="6"/><rect x="815" y="1047" width="5" height="6"/><rect x="815" y="1067" width="5" height="6"/><rect x="815" y="1087" width="5" height="6"/><rect x="815" y="1106" width="5" height="6"/><rect x="815" y="1126" width="5" height="6"/><rect x="815" y="1146" width="5" height="6"/><rect x="815" y="1165" width="5" height="6"/><rect x="815" y="1185" width="5" height="6"/><rect x="815" y="1205" width="5" height="6"/><rect x="911" y="102" width="5" height="6"/><rect x="911" y="122" width="5" height="6"/><rect x="911" y="141" width="5" height="6"/><rect x="911" y="161" width="5" height="6"/><rect x="911" y="181" width="5" height="6"/><rect x="911" y="200" width="5" height="6"/><rect x="911" y="220" width="5" height="6"/><rect x="911" y="240" width="5" height="6"/><rect x="911" y="259" width="5" height="6"/><rect x="911" y="279" width="5" height="6"/><rect x="911" y="299" width="5" height="6"/><rect x="911" y="319" width="5" height="6"/><rect x="911" y="338" width="5" height="6"/><rect x="911" y="358" width="5" height="6"/><rect x="911" y="378" width="5" height="6"/><rect x="911" y="397" width="5" height="6"/><rect x="911" y="417" width="5" height="6"/><rect x="911" y="437" width="5" height="6"/><rect x="911" y="456" width="5" height="6"/><rect x="911" y="476" width="5" height="6"/><rect x="911" y="496" width="5" height="6"/><rect x="911" y="515" width="5" height="6"/><rect x="911" y="535" width="5" height="6"/><rect x="911" y="555" width="5" height="6"/><rect x="911" y="575" width="5" height="6"/><rect x="911" y="594" width="5" height="6"/><rect x="911" y="614" width="5" height="6"/><rect x="911" y="634" width="5" height="6"/><rect x="911" y="653" width="5" height="6"/><rect x="911" y="673" width="5" height="6"/><rect x="911" y="693" width="5" height="6"/><rect x="911" y="712" width="5" height="6"/><rect x="911" y="732" width="5" height="6"/><rect x="911" y="752" width="5" height="6"/><rect x="911" y="771" width="5" height="6"/><rect x="911" y="791" width="5" height="6"/><rect x="911" y="811" width="5" height="6"/><rect x="911" y="831" width="5" height="6"/><rect x="911" y="850" width="5" height="6"/><rect x="911" y="870" width="5" height="6"/><rect x="911" y="890" width="5" height="6"/><rect x="911" y="909" width="5" height="6"/><rect x="911" y="929" width="5" height="6"/><rect x="911" y="949" width="5" height="6"/><rect x="911" y="968" width="5" height="6"/><rect x="911" y="988" width="5" height="6"/><rect x="911" y="1008" width="5" height="6"/><rect x="911" y="1027" width="5" height="6"/><rect x="911" y="1047" width="5" height="6"/><rect x="911" y="1067" width="5" height="6"/><rect x="911" y="1087" width="5" height="6"/><rect x="911" y="1106" width="5" height="6"/><rect x="911" y="1126" width="5" height="6"/><rect x="911" y="1146" width="5" height="6"/><rect x="911" y="1165" width="5" height="6"/><rect x="911" y="1185" width="5" height="6"/><rect x="911" y="1205" width="5" height="6"/><rect x="960" y="102" width="5" height="6"/><rect x="960" y="122" width="5" height="6"/><rect x="960" y="141" width="5" height="6"/><rect x="960" y="161" width="5" height="6"/><rect x="960" y="181" width="5" height="6"/><rect x="960" y="200" width="5" height="6"/><rect x="960" y="220" width="5" height="6"/><rect x="960" y="240" width="5" height="6"/><rect x="960" y="259" width="5" height="6"/><rect x="960" y="279" width="5" height="6"/><rect x="960" y="299" width="5" height="6"/><rect x="960" y="319" width="5" height="6"/><rect x="960" y="338" width="5" height="6"/><rect x="960" y="358" width="5" height="6"/><rect x="960" y="378" width="5" height="6"/><rect x="960" y="397" width="5" height="6"/><rect x="960" y="417" width="5" height="6"/><rect x="960" y="437" width="5" height="6"/><rect x="960" y="456" width="5" height="6"/><rect x="960" y="476" width="5" height="6"/><rect x="960" y="496" width="5" height="6"/><rect x="960" y="515" width="5" height="6"/><rect x="960" y="535" width="5" height="6"/><rect x="960" y="555" width="5" height="6"/><rect x="960" y="575" width="5" height="6"/><rect x="960" y="594" width="5" height="6"/><rect x="960" y="614" width="5" height="6"/><rect x="960" y="634" width="5" height="6"/><rect x="960" y="653" width="5" height="6"/><rect x="960" y="673" width="5" height="6"/><rect x="960" y="693" width="5" height="6"/><rect x="960" y="712" width="5" height="6"/><rect x="960" y="732" width="5" height="6"/><rect x="960" y="752" width="5" height="6"/><rect x="960" y="771" width="5" height="6"/><rect x="960" y="791" width="5" height="6"/><rect x="960" y="811" width="5" height="6"/><rect x="960" y="831" width="5" height="6"/><rect x="960" y="850" width="5" height="6"/><rect x="960" y="870" width="5" height="6"/><rect x="960" y="890" width="5" height="6"/><rect x="960" y="909" width="5" height="6"/><rect x="960" y="929" width="5" height="6"/><rect x="960" y="949" width="5" height="6"/><rect x="960" y="968" width="5" height="6"/><rect x="960" y="988" width="5" height="6"/><rect x="960" y="1008" width="5" height="6"/><rect x="960" y="1027" width="5" height="6"/><rect x="960" y="1047" width="5" height="6"/><rect x="960" y="1067" width="5" height="6"/><rect x="960" y="1087" width="5" height="6"/><rect x="960" y="1106" width="5" height="6"/><rect x="960" y="1126" width="5" height="6"/><rect x="960" y="1146" width="5" height="6"/><rect x="960" y="1165" width="5" height="6"/><rect x="960" y="1185" width="5" height="6"/><rect x="960" y="1205" width="5" height="6"/><rect x="995" y="102" width="5" height="6"/><rect x="995" y="122" width="5" height="6"/><rect x="995" y="141" width="5" height="6"/><rect x="995" y="161" width="5" height="6"/><rect x="995" y="181" width="5" height="6"/><rect x="995" y="200" width="5" height="6"/><rect x="995" y="220" width="5" height="6"/><rect x="995" y="240" width="5" height="6"/><rect x="995" y="259" width="5" height="6"/><rect x="995" y="279" width="5" height="6"/><rect x="995" y="299" width="5" height="6"/><rect x="995" y="319" width="5" height="6"/><rect x="995" y="338" width="5" height="6"/><rect x="995" y="358" width="5" height="6"/><rect x="995" y="378" width="5" height="6"/><rect x="995" y="397" width="5" height="6"/><rect x="995" y="417" width="5" height="6"/><rect x="995" y="437" width="5" height="6"/><rect x="995" y="456" width="5" height="6"/><rect x="995" y="476" width="5" height="6"/><rect x="995" y="496" width="5" height="6"/><rect x="995" y="515" width="5" height="6"/><rect x="995" y="535" width="5" height="6"/><rect x="995" y="555" width="5" height="6"/><rect x="995" y="575" width="5" height="6"/><rect x="995" y="594" width="5" height="6"/><rect x="995" y="614" width="5" height="6"/><rect x="995" y="634" width="5" height="6"/><rect x="995" y="653" width="5" height="6"/><rect x="995" y="673" width="5" height="6"/><rect x="995" y="693" width="5" height="6"/><rect x="995" y="712" width="5" height="6"/><rect x="995" y="732" width="5" height="6"/><rect x="995" y="752" width="5" height="6"/><rect x="995" y="771" width="5" height="6"/><rect x="995" y="791" width="5" height="6"/><rect x="995" y="811" width="5" height="6"/><rect x="995" y="831" width="5" height="6"/><rect x="995" y="850" width="5" height="6"/><rect x="995" y="870" width="5" height="6"/><rect x="995" y="890" width="5" height="6"/><rect x="995" y="909" width="5" height="6"/><rect x="995" y="929" width="5" height="6"/><rect x="995" y="949" width="5" height="6"/><rect x="995" y="968" width="5" height="6"/><rect x="995" y="988" width="5" height="6"/><rect x="995" y="1008" width="5" height="6"/><rect x="995" y="1027" width="5" height="6"/><rect x="995" y="1047" width="5" height="6"/><rect x="995" y="1067" width="5" height="6"/><rect x="995" y="1087" width="5" height="6"/><rect x="995" y="1106" width="5" height="6"/><rect x="995" y="1126" width="5" height="6"/><rect x="995" y="1146" width="5" height="6"/><rect x="995" y="1165" width="5" height="6"/><rect x="995" y="1185" width="5" height="6"/><rect x="995" y="1205" width="5" height="6"/><rect x="1022" y="102" width="5" height="6"/><rect x="1022" y="122" width="5" height="6"/><rect x="1022" y="141" width="5" height="6"/><rect x="1022" y="161" width="5" height="6"/><rect x="1022" y="181" width="5" height="6"/><rect x="1022" y="200" width="5" height="6"/><rect x="1022" y="220" width="5" height="6"/><rect x="1022" y="240" width="5" height="6"/><rect x="1022" y="259" width="5" height="6"/><rect x="1022" y="279" width="5" height="6"/><rect x="1022" y="299" width="5" height="6"/><rect x="1022" y="319" width="5" height="6"/><rect x="1022" y="338" width="5" height="6"/><rect x="1022" y="358" width="5" height="6"/><rect x="1022" y="378" width="5" height="6"/><rect x="1022" y="397" width="5" height="6"/><rect x="1022" y="417" width="5" height="6"/><rect x="1022" y="437" width="5" height="6"/><rect x="1022" y="456" width="5" height="6"/><rect x="1022" y="476" width="5" height="6"/><rect x="1022" y="496" width="5" height="6"/><rect x="1022" y="515" width="5" height="6"/><rect x="1022" y="535" width="5" height="6"/><rect x="1022" y="555" width="5" height="6"/><rect x="1022" y="575" width="5" height="6"/><rect x="1022" y="594" width="5" height="6"/><rect x="1022" y="614" width="5" height="6"/><rect x="1022" y="634" width="5" height="6"/><rect x="1022" y="653" width="5" height="6"/><rect x="1022" y="673" width="5" height="6"/><rect x="1022" y="693" width="5" height="6"/><rect x="1022" y="712" width="5" height="6"/><rect x="1022" y="732" width="5" height="6"/><rect x="1022" y="752" width="5" height="6"/><rect x="1022" y="771" width="5" height="6"/><rect x="1022" y="791" width="5" height="6"/><rect x="1022" y="811" width="5" height="6"/><rect x="1022" y="831" width="5" height="6"/><rect x="1022" y="850" width="5" height="6"/><rect x="1022" y="870" width="5" height="6"/><rect x="1022" y="890" width="5" height="6"/><rect x="1022" y="909" width="5" height="6"/><rect x="1022" y="929" width="5" height="6"/><rect x="1022" y="949" width="5" height="6"/><rect x="1022" y="968" width="5" height="6"/><rect x="1022" y="988" width="5" height="6"/><rect x="1022" y="1008" width="5" height="6"/><rect x="1022" y="1027" width="5" height="6"/><rect x="1022" y="1047" width="5" height="6"/><rect x="1022" y="1067" width="5" height="6"/><rect x="1022" y="1087" width="5" height="6"/><rect x="1022" y="1106" width="5" height="6"/><rect x="1022" y="1126" width="5" height="6"/><rect x="1022" y="1146" width="5" height="6"/><rect x="1022" y="1165" width="5" height="6"/><rect x="1022" y="1185" width="5" height="6"/><rect x="1022" y="1205" width="5" height="6"/><rect x="1044" y="102" width="5" height="6"/><rect x="1044" y="122" width="5" height="6"/><rect x="1044" y="141" width="5" height="6"/><rect x="1044" y="161" width="5" height="6"/><rect x="1044" y="181" width="5" height="6"/><rect x="1044" y="200" width="5" height="6"/><rect x="1044" y="220" width="5" height="6"/><rect x="1044" y="240" width="5" height="6"/><rect x="1044" y="259" width="5" height="6"/><rect x="1044" y="279" width="5" height="6"/><rect x="1044" y="299" width="5" height="6"/><rect x="1044" y="319" width="5" height="6"/><rect x="1044" y="338" width="5" height="6"/><rect x="1044" y="358" width="5" height="6"/><rect x="1044" y="378" width="5" height="6"/><rect x="1044" y="397" width="5" height="6"/><rect x="1044" y="417" width="5" height="6"/><rect x="1044" y="437" width="5" height="6"/><rect x="1044" y="456" width="5" height="6"/><rect x="1044" y="476" width="5" height="6"/><rect x="1044" y="496" width="5" height="6"/><rect x="1044" y="515" width="5" height="6"/><rect x="1044" y="535" width="5" height="6"/><rect x="1044" y="555" width="5" height="6"/><rect x="1044" y="575" width="5" height="6"/><rect x="1044" y="594" width="5" height="6"/><rect x="1044" y="614" width="5" height="6"/><rect x="1044" y="634" width="5" height="6"/><rect x="1044" y="653" width="5" height="6"/><rect x="1044" y="673" width="5" height="6"/><rect x="1044" y="693" width="5" height="6"/><rect x="1044" y="712" width="5" height="6"/><rect x="1044" y="732" width="5" height="6"/><rect x="1044" y="752" width="5" height="6"/><rect x="1044" y="771" width="5" height="6"/><rect x="1044" y="791" width="5" height="6"/><rect x="1044" y="811" width="5" height="6"/><rect x="1044" y="831" width="5" height="6"/><rect x="1044" y="850" width="5" height="6"/><rect x="1044" y="870" width="5" height="6"/><rect x="1044" y="890" width="5" height="6"/><rect x="1044" y="909" width="5" height="6"/><rect x="1044" y="929" width="5" height="6"/><rect x="1044" y="949" width="5" height="6"/><rect x="1044" y="968" width="5" height="6"/><rect x="1044" y="988" width="5" height="6"/><rect x="1044" y="1008" width="5" height="6"/><rect x="1044" y="1027" width="5" height="6"/><rect x="1044" y="1047" width="5" height="6"/><rect x="1044" y="1067" width="5" height="6"/><rect x="1044" y="1087" width="5" height="6"/><rect x="1044" y="1106" width="5" height="6"/><rect x="1044" y="1126" width="5" height="6"/><rect x="1044" y="1146" width="5" height="6"/><rect x="1044" y="1165" width="5" height="6"/><rect x="1044" y="1185" width="5" height="6"/><rect x="1044" y="1205" width="5" height="6"/><rect x="1063" y="102" width="5" height="6"/><rect x="1063" y="122" width="5" height="6"/><rect x="1063" y="141" width="5" height="6"/><rect x="1063" y="161" width="5" height="6"/><rect x="1063" y="181" width="5" height="6"/><rect x="1063" y="200" width="5" height="6"/><rect x="1063" y="220" width="5" height="6"/><rect x="1063" y="240" width="5" height="6"/><rect x="1063" y="259" width="5" height="6"/><rect x="1063" y="279" width="5" height="6"/><rect x="1063" y="299" width="5" height="6"/><rect x="1063" y="319" width="5" height="6"/><rect x="1063" y="338" width="5" height="6"/><rect x="1063" y="358" width="5" height="6"/><rect x="1063" y="378" width="5" height="6"/><rect x="1063" y="397" width="5" height="6"/><rect x="1063" y="417" width="5" height="6"/><rect x="1063" y="437" width="5" height="6"/><rect x="1063" y="456" width="5" height="6"/><rect x="1063" y="476" width="5" height="6"/><rect x="1063" y="496" width="5" height="6"/><rect x="1063" y="515" width="5" height="6"/><rect x="1063" y="535" width="5" height="6"/><rect x="1063" y="555" width="5" height="6"/><rect x="1063" y="575" width="5" height="6"/><rect x="1063" y="594" width="5" height="6"/><rect x="1063" y="614" width="5" height="6"/><rect x="1063" y="634" width="5" height="6"/><rect x="1063" y="653" width="5" height="6"/><rect x="1063" y="673" width="5" height="6"/><rect x="1063" y="693" width="5" height="6"/><rect x="1063" y="712" width="5" height="6"/><rect x="1063" y="732" width="5" height="6"/><rect x="1063" y="752" width="5" height="6"/><rect x="1063" y="771" width="5" height="6"/><rect x="1063" y="791" width="5" height="6"/><rect x="1063" y="811" width="5" height="6"/><rect x="1063" y="831" width="5" height="6"/><rect x="1063" y="850" width="5" height="6"/><rect x="1063" y="870" width="5" height="6"/><rect x="1063" y="890" width="5" height="6"/><rect x="1063" y="909" width="5" height="6"/><rect x="1063" y="929" width="5" height="6"/><rect x="1063" y="949" width="5" height="6"/><rect x="1063" y="968" width="5" height="6"/><rect x="1063" y="988" width="5" height="6"/><rect x="1063" y="1008" width="5" height="6"/><rect x="1063" y="1027" width="5" height="6"/><rect x="1063" y="1047" width="5" height="6"/><rect x="1063" y="1067" width="5" height="6"/><rect x="1063" y="1087" width="5" height="6"/><rect x="1063" y="1106" width="5" height="6"/><rect x="1063" y="1126" width="5" height="6"/><rect x="1063" y="1146" width="5" height="6"/><rect x="1063" y="1165" width="5" height="6"/><rect x="1063" y="1185" width="5" height="6"/><rect x="1063" y="1205" width="5" height="6"/><rect x="1079" y="102" width="5" height="6"/><rect x="1079" y="122" width="5" height="6"/><rect x="1079" y="141" width="5" height="6"/><rect x="1079" y="161" width="5" height="6"/><rect x="1079" y="181" width="5" height="6"/><rect x="1079" y="200" width="5" height="6"/><rect x="1079" y="220" width="5" height="6"/><rect x="1079" y="240" width="5" height="6"/><rect x="1079" y="259" width="5" height="6"/><rect x="1079" y="279" width="5" height="6"/><rect x="1079" y="299" width="5" height="6"/><rect x="1079" y="319" width="5" height="6"/><rect x="1079" y="338" width="5" height="6"/><rect x="1079" y="358" width="5" height="6"/><rect x="1079" y="378" width="5" height="6"/><rect x="1079" y="397" width="5" height="6"/><rect x="1079" y="417" width="5" height="6"/><rect x="1079" y="437" width="5" height="6"/><rect x="1079" y="456" width="5" height="6"/><rect x="1079" y="476" width="5" height="6"/><rect x="1079" y="496" width="5" height="6"/><rect x="1079" y="515" width="5" height="6"/><rect x="1079" y="535" width="5" height="6"/><rect x="1079" y="555" width="5" height="6"/><rect x="1079" y="575" width="5" height="6"/><rect x="1079" y="594" width="5" height="6"/><rect x="1079" y="614" width="5" height="6"/><rect x="1079" y="634" width="5" height="6"/><rect x="1079" y="653" width="5" height="6"/><rect x="1079" y="673" width="5" height="6"/><rect x="1079" y="693" width="5" height="6"/><rect x="1079" y="712" width="5" height="6"/><rect x="1079" y="732" width="5" height="6"/><rect x="1079" y="752" width="5" height="6"/><rect x="1079" y="771" width="5" height="6"/><rect x="1079" y="791" width="5" height="6"/><rect x="1079" y="811" width="5" height="6"/><rect x="1079" y="831" width="5" height="6"/><rect x="1079" y="850" width="5" height="6"/><rect x="1079" y="870" width="5" height="6"/><rect x="1079" y="890" width="5" height="6"/><rect x="1079" y="909" width="5" height="6"/><rect x="1079" y="929" width="5" height="6"/><rect x="1079" y="949" width="5" height="6"/><rect x="1079" y="968" width="5" height="6"/><rect x="1079" y="988" width="5" height="6"/><rect x="1079" y="1008" width="5" height="6"/><rect x="1079" y="1027" width="5" height="6"/><rect x="1079" y="1047" width="5" height="6"/><rect x="1079" y="1067" width="5" height="6"/><rect x="1079" y="1087" width="5" height="6"/><rect x="1079" y="1106" width="5" height="6"/><rect x="1079" y="1126" width="5" height="6"/><rect x="1079" y="1146" width="5" height="6"/><rect x="1079" y="1165" width="5" height="6"/><rect x="1079" y="1185" width="5" height="6"/><rect x="1079" y="1205" width="5" height="6"/><rect x="1093" y="102" width="5" height="6"/><rect x="1093" y="122" width="5" height="6"/><rect x="1093" y="141" width="5" height="6"/><rect x="1093" y="161" width="5" height="6"/><rect x="1093" y="181" width="5" height="6"/><rect x="1093" y="200" width="5" height="6"/><rect x="1093" y="220" width="5" height="6"/><rect x="1093" y="240" width="5" height="6"/><rect x="1093" y="259" width="5" height="6"/><rect x="1093" y="279" width="5" height="6"/><rect x="1093" y="299" width="5" height="6"/><rect x="1093" y="319" width="5" height="6"/><rect x="1093" y="338" width="5" height="6"/><rect x="1093" y="358" width="5" height="6"/><rect x="1093" y="378" width="5" height="6"/><rect x="1093" y="397" width="5" height="6"/><rect x="1093" y="417" width="5" height="6"/><rect x="1093" y="437" width="5" height="6"/><rect x="1093" y="456" width="5" height="6"/><rect x="1093" y="476" width="5" height="6"/><rect x="1093" y="496" width="5" height="6"/><rect x="1093" y="515" width="5" height="6"/><rect x="1093" y="535" width="5" height="6"/><rect x="1093" y="555" width="5" height="6"/><rect x="1093" y="575" width="5" height="6"/><rect x="1093" y="594" width="5" height="6"/><rect x="1093" y="614" width="5" height="6"/><rect x="1093" y="634" width="5" height="6"/><rect x="1093" y="653" width="5" height="6"/><rect x="1093" y="673" width="5" height="6"/><rect x="1093" y="693" width="5" height="6"/><rect x="1093" y="712" width="5" height="6"/><rect x="1093" y="732" width="5" height="6"/><rect x="1093" y="752" width="5" height="6"/><rect x="1093" y="771" width="5" height="6"/><rect x="1093" y="791" width="5" height="6"/><rect x="1093" y="811" width="5" height="6"/><rect x="1093" y="831" width="5" height="6"/><rect x="1093" y="850" width="5" height="6"/><rect x="1093" y="870" width="5" height="6"/><rect x="1093" y="890" width="5" height="6"/><rect x="1093" y="909" width="5" height="6"/><rect x="1093" y="929" width="5" height="6"/><rect x="1093" y="949" width="5" height="6"/><rect x="1093" y="968" width="5" height="6"/><rect x="1093" y="988" width="5" height="6"/><rect x="1093" y="1008" width="5" height="6"/><rect x="1093" y="1027" width="5" height="6"/><rect x="1093" y="1047" width="5" height="6"/><rect x="1093" y="1067" width="5" height="6"/><rect x="1093" y="1087" width="5" height="6"/><rect x="1093" y="1106" width="5" height="6"/><rect x="1093" y="1126" width="5" height="6"/><rect x="1093" y="1146" width="5" height="6"/><rect x="1093" y="1165" width="5" height="6"/><rect x="1093" y="1185" width="5" height="6"/><rect x="1093" y="1205" width="5" height="6"/><rect x="1190" y="102" width="5" height="6"/><rect x="1190" y="122" width="5" height="6"/><rect x="1190" y="141" width="5" height="6"/><rect x="1190" y="161" width="5" height="6"/><rect x="1190" y="181" width="5" height="6"/><rect x="1190" y="200" width="5" height="6"/><rect x="1190" y="220" width="5" height="6"/><rect x="1190" y="240" width="5" height="6"/><rect x="1190" y="259" width="5" height="6"/><rect x="1190" y="279" width="5" height="6"/><rect x="1190" y="299" width="5" height="6"/><rect x="1190" y="319" width="5" height="6"/><rect x="1190" y="338" width="5" height="6"/><rect x="1190" y="358" width="5" height="6"/><rect x="1190" y="378" width="5" height="6"/><rect x="1190" y="397" width="5" height="6"/><rect x="1190" y="417" width="5" height="6"/><rect x="1190" y="437" width="5" height="6"/><rect x="1190" y="456" width="5" height="6"/><rect x="1190" y="476" width="5" height="6"/><rect x="1190" y="496" width="5" height="6"/><rect x="1190" y="515" width="5" height="6"/><rect x="1190" y="535" width="5" height="6"/><rect x="1190" y="555" width="5" height="6"/><rect x="1190" y="575" width="5" height="6"/><rect x="1190" y="594" width="5" height="6"/><rect x="1190" y="614" width="5" height="6"/><rect x="1190" y="634" width="5" height="6"/><rect x="1190" y="653" width="5" height="6"/><rect x="1190" y="673" width="5" height="6"/><rect x="1190" y="693" width="5" height="6"/><rect x="1190" y="712" width="5" height="6"/><rect x="1190" y="732" width="5" height="6"/><rect x="1190" y="752" width="5" height="6"/><rect x="1190" y="771" width="5" height="6"/><rect x="1190" y="791" width="5" height="6"/><rect x="1190" y="811" width="5" height="6"/><rect x="1190" y="831" width="5" height="6"/><rect x="1190" y="850" width="5" height="6"/><rect x="1190" y="870" width="5" height="6"/><rect x="1190" y="890" width="5" height="6"/><rect x="1190" y="909" width="5" height="6"/><rect x="1190" y="929" width="5" height="6"/><rect x="1190" y="949" width="5" height="6"/><rect x="1190" y="968" width="5" height="6"/><rect x="1190" y="988" width="5" height="6"/><rect x="1190" y="1008" width="5" height="6"/><rect x="1190" y="1027" width="5" height="6"/><rect x="1190" y="1047" width="5" height="6"/><rect x="1190" y="1067" width="5" height="6"/><rect x="1190" y="1087" width="5" height="6"/><rect x="1190" y="1106" width="5" height="6"/><rect x="1190" y="1126" width="5" height="6"/><rect x="1190" y="1146" width="5" height="6"/><rect x="1190" y="1165" width="5" height="6"/><rect x="1190" y="1185" width="5" height="6"/><rect x="1190" y="1205" width="5" height="6"/><rect x="1239" y="102" width="5" height="6"/><rect x="1239" y="122" width="5" height="6"/><rect x="1239" y="141" width="5" height="6"/><rect x="1239" y="161" width="5" height="6"/><rect x="1239" y="181" width="5" height="6"/><rect x="1239" y="200" width="5" height="6"/><rect x="1239" y="220" width="5" height="6"/><rect x="1239" y="240" width="5" height="6"/><rect x="1239" y="259" width="5" height="6"/><rect x="1239" y="279" width="5" height="6"/><rect x="1239" y="299" width="5" height="6"/><rect x="1239" y="319" width="5" height="6"/><rect x="1239" y="338" width="5" height="6"/><rect x="1239" y="358" width="5" height="6"/><rect x="1239" y="378" width="5" height="6"/><rect x="1239" y="397" width="5" height="6"/><rect x="1239" y="417" width="5" height="6"/><rect x="1239" y="437" width="5" height="6"/><rect x="1239" y="456" width="5" height="6"/><rect x="1239" y="476" width="5" height="6"/><rect x="1239" y="496" width="5" height="6"/><rect x="1239" y="515" width="5" height="6"/><rect x="1239" y="535" width="5" height="6"/><rect x="1239" y="555" width="5" height="6"/><rect x="1239" y="575" width="5" height="6"/><rect x="1239" y="594" width="5" height="6"/><rect x="1239" y="614" width="5" height="6"/><rect x="1239" y="634" width="5" height="6"/><rect x="1239" y="653" width="5" height="6"/><rect x="1239" y="673" width="5" height="6"/><rect x="1239" y="693" width="5" height="6"/><rect x="1239" y="712" width="5" height="6"/><rect x="1239" y="732" width="5" height="6"/><rect x="1239" y="752" width="5" height="6"/><rect x="1239" y="771" width="5" height="6"/><rect x="1239" y="791" width="5" height="6"/><rect x="1239" y="811" width="5" height="6"/><rect x="1239" y="831" width="5" height="6"/><rect x="1239" y="850" width="5" height="6"/><rect x="1239" y="870" width="5" height="6"/><rect x="1239" y="890" width="5" height="6"/><rect x="1239" y="909" width="5" height="6"/><rect x="1239" y="929" width="5" height="6"/><rect x="1239" y="949" width="5" height="6"/><rect x="1239" y="968" width="5" height="6"/><rect x="1239" y="988" width="5" height="6"/><rect x="1239" y="1008" width="5" height="6"/><rect x="1239" y="1027" width="5" height="6"/><rect x="1239" y="1047" width="5" height="6"/><rect x="1239" y="1067" width="5" height="6"/><rect x="1239" y="1087" width="5" height="6"/><rect x="1239" y="1106" width="5" height="6"/><rect x="1239" y="1126" width="5" height="6"/><rect x="1239" y="1146" width="5" height="6"/><rect x="1239" y="1165" width="5" height="6"/><rect x="1239" y="1185" width="5" height="6"/><rect x="1239" y="1205" width="5" height="6"/><rect x="1274" y="102" width="5" height="6"/><rect x="1274" y="122" width="5" height="6"/><rect x="1274" y="141" width="5" height="6"/><rect x="1274" y="161" width="5" height="6"/><rect x="1274" y="181" width="5" height="6"/><rect x="1274" y="200" width="5" height="6"/><rect x="1274" y="220" width="5" height="6"/><rect x="1274" y="240" width="5" height="6"/><rect x="1274" y="259" width="5" height="6"/><rect x="1274" y="279" width="5" height="6"/><rect x="1274" y="299" width="5" height="6"/><rect x="1274" y="319" width="5" height="6"/><rect x="1274" y="338" width="5" height="6"/><rect x="1274" y="358" width="5" height="6"/><rect x="1274" y="378" width="5" height="6"/><rect x="1274" y="397" width="5" height="6"/><rect x="1274" y="417" width="5" height="6"/><rect x="1274" y="437" width="5" height="6"/><rect x="1274" y="456" width="5" height="6"/><rect x="1274" y="476" width="5" height="6"/><rect x="1274" y="496" width="5" height="6"/><rect x="1274" y="515" width="5" height="6"/><rect x="1274" y="535" width="5" height="6"/><rect x="1274" y="555" width="5" height="6"/><rect x="1274" y="575" width="5" height="6"/><rect x="1274" y="594" width="5" height="6"/><rect x="1274" y="614" width="5" height="6"/><rect x="1274" y="634" width="5" height="6"/><rect x="1274" y="653" width="5" height="6"/><rect x="1274" y="673" width="5" height="6"/><rect x="1274" y="693" width="5" height="6"/><rect x="1274" y="712" width="5" height="6"/><rect x="1274" y="732" width="5" height="6"/><rect x="1274" y="752" width="5" height="6"/><rect x="1274" y="771" width="5" height="6"/><rect x="1274" y="791" width="5" height="6"/><rect x="1274" y="811" width="5" height="6"/><rect x="1274" y="831" width="5" height="6"/><rect x="1274" y="850" width="5" height="6"/><rect x="1274" y="870" width="5" height="6"/><rect x="1274" y="890" width="5" height="6"/><rect x="1274" y="909" width="5" height="6"/><rect x="1274" y="929" width="5" height="6"/><rect x="1274" y="949" width="5" height="6"/><rect x="1274" y="968" width="5" height="6"/><rect x="1274" y="988" width="5" height="6"/><rect x="1274" y="1008" width="5" height="6"/><rect x="1274" y="1027" width="5" height="6"/><rect x="1274" y="1047" width="5" height="6"/><rect x="1274" y="1067" width="5" height="6"/><rect x="1274" y="1087" width="5" height="6"/><rect x="1274" y="1106" width="5" height="6"/><rect x="1274" y="1126" width="5" height="6"/><rect x="1274" y="1146" width="5" height="6"/><rect x="1274" y="1165" width="5" height="6"/><rect x="1274" y="1185" width="5" height="6"/><rect x="1274" y="1205" width="5" height="6"/><rect x="1301" y="102" width="5" height="6"/><rect x="1301" y="122" width="5" height="6"/><rect x="1301" y="141" width="5" height="6"/><rect x="1301" y="161" width="5" height="6"/><rect x="1301" y="181" width="5" height="6"/><rect x="1301" y="200" width="5" height="6"/><rect x="1301" y="220" width="5" height="6"/><rect x="1301" y="240" width="5" height="6"/><rect x="1301" y="259" width="5" height="6"/><rect x="1301" y="279" width="5" height="6"/><rect x="1301" y="299" width="5" height="6"/><rect x="1301" y="319" width="5" height="6"/><rect x="1301" y="338" width="5" height="6"/><rect x="1301" y="358" width="5" height="6"/><rect x="1301" y="378" width="5" height="6"/><rect x="1301" y="397" width="5" height="6"/><rect x="1301" y="417" width="5" height="6"/><rect x="1301" y="437" width="5" height="6"/><rect x="1301" y="456" width="5" height="6"/><rect x="1301" y="476" width="5" height="6"/><rect x="1301" y="496" width="5" height="6"/><rect x="1301" y="515" width="5" height="6"/><rect x="1301" y="535" width="5" height="6"/><rect x="1301" y="555" width="5" height="6"/><rect x="1301" y="575" width="5" height="6"/><rect x="1301" y="594" width="5" height="6"/><rect x="1301" y="614" width="5" height="6"/><rect x="1301" y="634" width="5" height="6"/><rect x="1301" y="653" width="5" height="6"/><rect x="1301" y="673" width="5" height="6"/><rect x="1301" y="693" width="5" height="6"/><rect x="1301" y="712" width="5" height="6"/><rect x="1301" y="732" width="5" height="6"/><rect x="1301" y="752" width="5" height="6"/><rect x="1301" y="771" width="5" height="6"/><rect x="1301" y="791" width="5" height="6"/><rect x="1301" y="811" width="5" height="6"/><rect x="1301" y="831" width="5" height="6"/><rect x="1301" y="850" width="5" height="6"/><rect x="1301" y="870" width="5" height="6"/><rect x="1301" y="890" width="5" height="6"/><rect x="1301" y="909" width="5" height="6"/><rect x="1301" y="929" width="5" height="6"/><rect x="1301" y="949" width="5" height="6"/><rect x="1301" y="968" width="5" height="6"/><rect x="1301" y="988" width="5" height="6"/><rect x="1301" y="1008" width="5" height="6"/><rect x="1301" y="1027" width="5" height="6"/><rect x="1301" y="1047" width="5" height="6"/><rect x="1301" y="1067" width="5" height="6"/><rect x="1301" y="1087" width="5" height="6"/><rect x="1301" y="1106" width="5" height="6"/><rect x="1301" y="1126" width="5" height="6"/><rect x="1301" y="1146" width="5" height="6"/><rect x="1301" y="1165" width="5" height="6"/><rect x="1301" y="1185" width="5" height="6"/><rect x="1301" y="1205" width="5" height="6"/><rect x="1323" y="102" width="5" height="6"/><rect x="1323" y="122" width="5" height="6"/><rect x="1323" y="141" width="5" height="6"/><rect x="1323" y="161" width="5" height="6"/><rect x="1323" y="181" width="5" height="6"/><rect x="1323" y="200" width="5" height="6"/><rect x="1323" y="220" width="5" height="6"/><rect x="1323" y="240" width="5" height="6"/><rect x="1323" y="259" width="5" height="6"/><rect x="1323" y="279" width="5" height="6"/><rect x="1323" y="299" width="5" height="6"/><rect x="1323" y="319" width="5" height="6"/><rect x="1323" y="338" width="5" height="6"/><rect x="1323" y="358" width="5" height="6"/><rect x="1323" y="378" width="5" height="6"/><rect x="1323" y="397" width="5" height="6"/><rect x="1323" y="417" width="5" height="6"/><rect x="1323" y="437" width="5" height="6"/><rect x="1323" y="456" width="5" height="6"/><rect x="1323" y="476" width="5" height="6"/><rect x="1323" y="496" width="5" height="6"/><rect x="1323" y="515" width="5" height="6"/><rect x="1323" y="535" width="5" height="6"/><rect x="1323" y="555" width="5" height="6"/><rect x="1323" y="575" width="5" height="6"/><rect x="1323" y="594" width="5" height="6"/><rect x="1323" y="614" width="5" height="6"/><rect x="1323" y="634" width="5" height="6"/><rect x="1323" y="653" width="5" height="6"/><rect x="1323" y="673" width="5" height="6"/><rect x="1323" y="693" width="5" height="6"/><rect x="1323" y="712" width="5" height="6"/><rect x="1323" y="732" width="5" height="6"/><rect x="1323" y="752" width="5" height="6"/><rect x="1323" y="771" width="5" height="6"/><rect x="1323" y="791" width="5" height="6"/><rect x="1323" y="811" width="5" height="6"/><rect x="1323" y="831" width="5" height="6"/><rect x="1323" y="850" width="5" height="6"/><rect x="1323" y="870" width="5" height="6"/><rect x="1323" y="890" width="5" height="6"/><rect x="1323" y="909" width="5" height="6"/><rect x="1323" y="929" width="5" height="6"/><rect x="1323" y="949" width="5" height="6"/><rect x="1323" y="968" width="5" height="6"/><rect x="1323" y="988" width="5" height="6"/><rect x="1323" y="1008" width="5" height="6"/><rect x="1323" y="1027" width="5" height="6"/><rect x="1323" y="1047" width="5" height="6"/><rect x="1323" y="1067" width="5" height="6"/><rect x="1323" y="1087" width="5" height="6"/><rect x="1323" y="1106" width="5" height="6"/><rect x="1323" y="1126" width="5" height="6"/><rect x="1323" y="1146" width="5" height="6"/><rect x="1323" y="1165" width="5" height="6"/><rect x="1323" y="1185" width="5" height="6"/><rect x="1323" y="1205" width="5" height="6"/><rect x="1342" y="102" width="5" height="6"/><rect x="1342" y="122" width="5" height="6"/><rect x="1342" y="141" width="5" height="6"/><rect x="1342" y="161" width="5" height="6"/><rect x="1342" y="181" width="5" height="6"/><rect x="1342" y="200" width="5" height="6"/><rect x="1342" y="220" width="5" height="6"/><rect x="1342" y="240" width="5" height="6"/><rect x="1342" y="259" width="5" height="6"/><rect x="1342" y="279" width="5" height="6"/><rect x="1342" y="299" width="5" height="6"/><rect x="1342" y="319" width="5" height="6"/><rect x="1342" y="338" width="5" height="6"/><rect x="1342" y="358" width="5" height="6"/><rect x="1342" y="378" width="5" height="6"/><rect x="1342" y="397" width="5" height="6"/><rect x="1342" y="417" width="5" height="6"/><rect x="1342" y="437" width="5" height="6"/><rect x="1342" y="456" width="5" height="6"/><rect x="1342" y="476" width="5" height="6"/><rect x="1342" y="496" width="5" height="6"/><rect x="1342" y="515" width="5" height="6"/><rect x="1342" y="535" width="5" height="6"/><rect x="1342" y="555" width="5" height="6"/><rect x="1342" y="575" width="5" height="6"/><rect x="1342" y="594" width="5" height="6"/><rect x="1342" y="614" width="5" height="6"/><rect x="1342" y="634" width="5" height="6"/><rect x="1342" y="653" width="5" height="6"/><rect x="1342" y="673" width="5" height="6"/><rect x="1342" y="693" width="5" height="6"/><rect x="1342" y="712" width="5" height="6"/><rect x="1342" y="732" width="5" height="6"/><rect x="1342" y="752" width="5" height="6"/><rect x="1342" y="771" width="5" height="6"/><rect x="1342" y="791" width="5" height="6"/><rect x="1342" y="811" width="5" height="6"/><rect x="1342" y="831" width="5" height="6"/><rect x="1342" y="850" width="5" height="6"/><rect x="1342" y="870" width="5" height="6"/><rect x="1342" y="890" width="5" height="6"/><rect x="1342" y="909" width="5" height="6"/><rect x="1342" y="929" width="5" height="6"/><rect x="1342" y="949" width="5" height="6"/><rect x="1342" y="968" width="5" height="6"/><rect x="1342" y="988" width="5" height="6"/><rect x="1342" y="1008" width="5" height="6"/><rect x="1342" y="1027" width="5" height="6"/><rect x="1342" y="1047" width="5" height="6"/><rect x="1342" y="1067" width="5" height="6"/><rect x="1342" y="1087" width="5" height="6"/><rect x="1342" y="1106" width="5" height="6"/><rect x="1342" y="1126" width="5" height="6"/><rect x="1342" y="1146" width="5" height="6"/><rect x="1342" y="1165" width="5" height="6"/><rect x="1342" y="1185" width="5" height="6"/><rect x="1342" y="1205" width="5" height="6"/><rect x="1358" y="102" width="5" height="6"/><rect x="1358" y="122" width="5" height="6"/><rect x="1358" y="141" width="5" height="6"/><rect x="1358" y="161" width="5" height="6"/><rect x="1358" y="181" width="5" height="6"/><rect x="1358" y="200" width="5" height="6"/><rect x="1358" y="220" width="5" height="6"/><rect x="1358" y="240" width="5" height="6"/><rect x="1358" y="259" width="5" height="6"/><rect x="1358" y="279" width="5" height="6"/><rect x="1358" y="299" width="5" height="6"/><rect x="1358" y="319" width="5" height="6"/><rect x="1358" y="338" width="5" height="6"/><rect x="1358" y="358" width="5" height="6"/><rect x="1358" y="378" width="5" height="6"/><rect x="1358" y="397" width="5" height="6"/><rect x="1358" y="417" width="5" height="6"/><rect x="1358" y="437" width="5" height="6"/><rect x="1358" y="456" width="5" height="6"/><rect x="1358" y="476" width="5" height="6"/><rect x="1358" y="496" width="5" height="6"/><rect x="1358" y="515" width="5" height="6"/><rect x="1358" y="535" width="5" height="6"/><rect x="1358" y="555" width="5" height="6"/><rect x="1358" y="575" width="5" height="6"/><rect x="1358" y="594" width="5" height="6"/><rect x="1358" y="614" width="5" height="6"/><rect x="1358" y="634" width="5" height="6"/><rect x="1358" y="653" width="5" height="6"/><rect x="1358" y="673" width="5" height="6"/><rect x="1358" y="693" width="5" height="6"/><rect x="1358" y="712" width="5" height="6"/><rect x="1358" y="732" width="5" height="6"/><rect x="1358" y="752" width="5" height="6"/><rect x="1358" y="771" width="5" height="6"/><rect x="1358" y="791" width="5" height="6"/><rect x="1358" y="811" width="5" height="6"/><rect x="1358" y="831" width="5" height="6"/><rect x="1358" y="850" width="5" height="6"/><rect x="1358" y="870" width="5" height="6"/><rect x="1358" y="890" width="5" height="6"/><rect x="1358" y="909" width="5" height="6"/><rect x="1358" y="929" width="5" height="6"/><rect x="1358" y="949" width="5" height="6"/><rect x="1358" y="968" width="5" height="6"/><rect x="1358" y="988" width="5" height="6"/><rect x="1358" y="1008" width="5" height="6"/><rect x="1358" y="1027" width="5" height="6"/><rect x="1358" y="1047" width="5" height="6"/><rect x="1358" y="1067" width="5" height="6"/><rect x="1358" y="1087" width="5" height="6"/><rect x="1358" y="1106" width="5" height="6"/><rect x="1358" y="1126" width="5" height="6"/><rect x="1358" y="1146" width="5" height="6"/><rect x="1358" y="1165" width="5" height="6"/><rect x="1358" y="1185" width="5" height="6"/><rect x="1358" y="1205" width="5" height="6"/><rect x="1372" y="102" width="5" height="6"/><rect x="1372" y="122" width="5" height="6"/><rect x="1372" y="141" width="5" height="6"/><rect x="1372" y="161" width="5" height="6"/><rect x="1372" y="181" width="5" height="6"/><rect x="1372" y="200" width="5" height="6"/><rect x="1372" y="220" width="5" height="6"/><rect x="1372" y="240" width="5" height="6"/><rect x="1372" y="259" width="5" height="6"/><rect x="1372" y="279" width="5" height="6"/><rect x="1372" y="299" width="5" height="6"/><rect x="1372" y="319" width="5" height="6"/><rect x="1372" y="338" width="5" height="6"/><rect x="1372" y="358" width="5" height="6"/><rect x="1372" y="378" width="5" height="6"/><rect x="1372" y="397" width="5" height="6"/><rect x="1372" y="417" width="5" height="6"/><rect x="1372" y="437" width="5" height="6"/><rect x="1372" y="456" width="5" height="6"/><rect x="1372" y="476" width="5" height="6"/><rect x="1372" y="496" width="5" height="6"/><rect x="1372" y="515" width="5" height="6"/><rect x="1372" y="535" width="5" height="6"/><rect x="1372" y="555" width="5" height="6"/><rect x="1372" y="575" width="5" height="6"/><rect x="1372" y="594" width="5" height="6"/><rect x="1372" y="614" width="5" height="6"/><rect x="1372" y="634" width="5" height="6"/><rect x="1372" y="653" width="5" height="6"/><rect x="1372" y="673" width="5" height="6"/><rect x="1372" y="693" width="5" height="6"/><rect x="1372" y="712" width="5" height="6"/><rect x="1372" y="732" width="5" height="6"/><rect x="1372" y="752" width="5" height="6"/><rect x="1372" y="771" width="5" height="6"/><rect x="1372" y="791" width="5" height="6"/><rect x="1372" y="811" width="5" height="6"/><rect x="1372" y="831" width="5" height="6"/><rect x="1372" y="850" width="5" height="6"/><rect x="1372" y="870" width="5" height="6"/><rect x="1372" y="890" width="5" height="6"/><rect x="1372" y="909" width="5" height="6"/><rect x="1372" y="929" width="5" height="6"/><rect x="1372" y="949" width="5" height="6"/><rect x="1372" y="968" width="5" height="6"/><rect x="1372" y="988" width="5" height="6"/><rect x="1372" y="1008" width="5" height="6"/><rect x="1372" y="1027" width="5" height="6"/><rect x="1372" y="1047" width="5" height="6"/><rect x="1372" y="1067" width="5" height="6"/><rect x="1372" y="1087" width="5" height="6"/><rect x="1372" y="1106" width="5" height="6"/><rect x="1372" y="1126" width="5" height="6"/><rect x="1372" y="1146" width="5" height="6"/><rect x="1372" y="1165" width="5" height="6"/><rect x="1372" y="1185" width="5" height="6"/><rect x="1372" y="1205" width="5" height="6"/></g>
<g fill="#262626"><rect x="186.0" y="80.2" width="1287.8" height="5.6"/><rect x="186.0" y="1227.2" width="1287.8" height="5.6"/><rect x="186.0" y="80.2" width="5.0" height="1152.6"/><rect x="1469.2" y="80.2" width="4.6" height="1152.6"/><rect x="270" y="85.8" width="5" height="16.1"/><rect x="270" y="1210.0" width="5" height="17.2"/><rect x="549" y="85.8" width="5" height="16.1"/><rect x="549" y="1210.0" width="5" height="17.2"/><rect x="828" y="85.8" width="5" height="16.1"/><rect x="828" y="1210.0" width="5" height="17.2"/><rect x="1106" y="85.8" width="5" height="16.1"/><rect x="1106" y="1210.0" width="5" height="17.2"/><rect x="1385" y="85.8" width="5" height="16.1"/><rect x="1385" y="1210.0" width="5" height="17.2"/><rect x="208" y="85.8" width="5" height="8"/><rect x="208" y="1219.1" width="5" height="8.1"/><rect x="227" y="85.8" width="5" height="8"/><rect x="227" y="1219.1" width="5" height="8.1"/><rect x="243" y="85.8" width="5" height="8"/><rect x="243" y="1219.1" width="5" height="8.1"/><rect x="257" y="85.8" width="5" height="8"/><rect x="257" y="1219.1" width="5" height="8.1"/><rect x="354" y="85.8" width="5" height="8"/><rect x="354" y="1219.1" width="5" height="8.1"/><rect x="403" y="85.8" width="5" height="8"/><rect x="403" y="1219.1" width="5" height="8.1"/><rect x="438" y="85.8" width="5" height="8"/><rect x="438" y="1219.1" width="5" height="8.1"/><rect x="465" y="85.8" width="5" height="8"/><rect x="465" y="1219.1" width="5" height="8.1"/><rect x="487" y="85.8" width="5" height="8"/><rect x="487" y="1219.1" width="5" height="8.1"/><rect x="506" y="85.8" width="5" height="8"/><rect x="506" y="1219.1" width="5" height="8.1"/><rect x="522" y="85.8" width="5" height="8"/><rect x="522" y="1219.1" width="5" height="8.1"/><rect x="536" y="85.8" width="5" height="8"/><rect x="536" y="1219.1" width="5" height="8.1"/><rect x="633" y="85.8" width="5" height="8"/><rect x="633" y="1219.1" width="5" height="8.1"/><rect x="682" y="85.8" width="5" height="8"/><rect x="682" y="1219.1" width="5" height="8.1"/><rect x="717" y="85.8" width="5" height="8"/><rect x="717" y="1219.1" width="5" height="8.1"/><rect x="744" y="85.8" width="5" height="8"/><rect x="744" y="1219.1" width="5" height="8.1"/><rect x="766" y="85.8" width="5" height="8"/><rect x="766" y="1219.1" width="5" height="8.1"/><rect x="784" y="85.8" width="5" height="8"/><rect x="784" y="1219.1" width="5" height="8.1"/><rect x="800" y="85.8" width="5" height="8"/><rect x="800" y="1219.1" width="5" height="8.1"/><rect x="815" y="85.8" width="5" height="8"/><rect x="815" y="1219.1" width="5" height="8.1"/><rect x="911" y="85.8" width="5" height="8"/><rect x="911" y="1219.1" width="5" height="8.1"/><rect x="960" y="85.8" width="5" height="8"/><rect x="960" y="1219.1" width="5" height="8.1"/><rect x="995" y="85.8" width="5" height="8"/><rect x="995" y="1219.1" width="5" height="8.1"/><rect x="1022" y="85.8" width="5" height="8"/><rect x="1022" y="1219.1" width="5" height="8.1"/><rect x="1044" y="85.8" width="5" height="8"/><rect x="1044" y="1219.1" width="5" height="8.1"/><rect x="1063" y="85.8" width="5" height="8"/><rect x="1063" y="1219.1" width="5" height="8.1"/><rect x="1079" y="85.8" width="5" height="8"/><rect x="1079" y="1219.1" width="5" height="8.1"/><rect x="1093" y="85.8" width="5" height="8"/><rect x="1093" y="1219.1" width="5" height="8.1"/><rect x="1190" y="85.8" width="5" height="8"/><rect x="1190" y="1219.1" width="5" height="8.1"/><rect x="1239" y="85.8" width="5" height="8"/><rect x="1239" y="1219.1" width="5" height="8.1"/><rect x="1274" y="85.8" width="5" height="8"/><rect x="1274" y="1219.1" width="5" height="8.1"/><rect x="1301" y="85.8" width="5" height="8"/><rect x="1301" y="1219.1" width="5" height="8.1"/><rect x="1323" y="85.8" width="5" height="8"/><rect x="1323" y="1219.1" width="5" height="8.1"/><rect x="1342" y="85.8" width="5" height="8"/><rect x="1342" y="1219.1" width="5" height="8.1"/><rect x="1358" y="85.8" width="5" height="8"/><rect x="1358" y="1219.1" width="5" height="8.1"/><rect x="1372" y="85.8" width="5" height="8"/><rect x="1372" y="1219.1" width="5" height="8.1"/><rect x="191.0" y="1112.44" width="13" height="5.5"/><rect x="1456.2" y="1112.44" width="13" height="5.5"/><rect x="191.0" y="997.73" width="13" height="5.5"/><rect x="1456.2" y="997.73" width="13" height="5.5"/><rect x="191.0" y="883.02" width="13" height="5.5"/><rect x="1456.2" y="883.02" width="13" height="5.5"/><rect x="191.0" y="768.31" width="13" height="5.5"/><rect x="1456.2" y="768.31" width="13" height="5.5"/><rect x="191.0" y="653.60" width="13" height="5.5"/><rect x="1456.2" y="653.60" width="13" height="5.5"/><rect x="191.0" y="538.89" width="13" height="5.5"/><rect x="1456.2" y="538.89" width="13" height="5.5"/><rect x="191.0" y="424.18" width="13" height="5.5"/><rect x="1456.2" y="424.18" width="13" height="5.5"/><rect x="191.0" y="309.47" width="13" height="5.5"/><rect x="1456.2" y="309.47" width="13" height="5.5"/><rect x="191.0" y="194.76" width="13" height="5.5"/><rect x="1456.2" y="194.76" width="13" height="5.5"/></g>
<polyline points="186.09,1230.00 188.59,1230.00 190.30,1230.00 192.01,1230.00 193.73,1230.00 195.44,1230.00 197.15,1230.00 198.86,1230.00 200.58,1230.00 202.29,1230.00 204.00,1230.00 205.72,1230.00 207.43,1230.00 209.14,1230.00 210.85,1230.00 212.57,1230.00 214.28,1230.00 215.99,1230.00 217.70,1230.00 219.42,1230.00 221.13,1230.00 222.84,1230.00 224.56,1230.00 226.27,1230.00 227.98,1230.00 229.69,1230.00 231.41,1230.00 233.12,1230.00 234.83,1230.00 236.54,1230.00 238.26,1230.00 239.97,1230.00 241.68,1230.00 243.40,1230.00 245.11,1230.00 246.82,1230.00 248.53,1230.00 250.25,1230.00 251.96,1230.00 253.67,1230.00 255.38,1230.00 257.10,1230.00 258.81,1230.00 260.52,1230.00 262.24,1230.00 263.95,1230.00 265.66,1230.00 267.37,1230.00 269.09,1230.00 270.80,1230.00 272.51,1230.00 274.22,1230.00 275.94,1230.00 277.65,1230.00 279.36,1230.00 281.08,1230.00 282.79,1230.00 284.50,1230.00 286.21,1230.00 287.93,1230.00 289.64,1230.00 291.35,1230.00 293.06,1230.00 294.78,1230.00 296.49,1230.00 298.20,1230.00 299.92,1230.00 301.63,1230.00 303.34,1230.00 305.05,1230.00 306.77,1230.00 308.48,1230.00 310.19,1230.00 311.90,1230.00 313.62,1230.00 315.33,1230.00 317.04,1230.00 318.76,1230.00 320.47,1230.00 322.18,1230.00 323.89,1230.00 325.61,1230.00 327.32,1230.00 329.03,1230.00 330.74,1230.00 332.46,1230.00 334.17,1230.00 335.88,1230.00 337.60,1230.00 339.31,1230.00 341.02,1230.00 342.73,1230.00 344.45,1230.00 346.16,1230.00 347.87,1230.00 349.58,1230.00 351.30,1230.00 353.01,1230.00 354.72,1230.00 356.44,1230.00 358.15,1230.00 359.86,1230.00 361.57,1230.00 363.29,1230.00 365.00,1230.00 366.71,1230.00 368.42,1230.00 370.14,1230.00 371.85,1230.00 373.56,1230.00 375.28,1230.00 376.99,1230.00 378.70,1230.00 380.41,1230.00 382.13,1230.00 383.84,1230.00 385.55,1230.00 387.26,1230.00 388.98,1230.00 390.69,1230.00 392.40,1230.00 394.12,1230.00 395.83,1230.00 397.54,1230.00 399.25,1230.00 400.97,1230.00 402.68,1230.00 404.39,1230.00 406.10,1230.00 407.82,1230.00 409.53,1230.00 411.24,1230.00 412.96,1230.00 414.67,1230.00 416.38,1230.00 418.09,1230.00 419.81,1230.00 421.52,1230.00 423.23,1230.00 424.94,1230.00 426.66,1230.00 428.37,1230.00 430.08,1230.00 431.80,1230.00 433.51,1230.00 435.22,1230.00 436.93,1230.00 438.65,1230.00 440.36,1230.00 442.07,1230.00 443.78,1230.00 445.50,1230.00 447.21,1230.00 448.92,1230.00 450.64,1230.00 452.35,1230.00 454.06,1230.00 455.77,1230.00 457.49,1230.00 459.20,1230.00 460.91,1230.00 462.62,1230.00 464.34,1230.00 466.05,1230.00 467.76,1230.00 469.48,1230.00 471.19,1230.00 472.90,1230.00 474.61,1230.00 476.33,1230.00 478.04,1230.00 479.75,1230.00 481.46,1230.00 483.18,1230.00 484.89,1230.00 486.60,1230.00 488.32,1230.00 490.03,1230.00 491.74,1230.00 493.45,1230.00 495.17,1230.00 496.88,1230.00 498.59,1230.00 500.31,1230.00 502.02,1230.00 503.73,1230.00 505.44,1230.00 507.16,1230.00 508.87,1230.00 510.58,1230.00 512.29,1230.00 514.01,1230.00 515.72,1230.00 517.43,1230.00 519.15,1230.00 520.86,1230.00 522.57,1230.00 524.28,1230.00 526.00,1230.00 527.71,1230.00 529.42,1230.00 531.13,1230.00 532.85,1230.00 534.56,1230.00 536.27,1229.99 537.99,1229.99 539.70,1229.99 541.41,1229.99 543.12,1229.99 544.84,1229.99 546.55,1229.98 548.26,1229.98 549.97,1229.98 551.69,1229.97 553.40,1229.97 555.11,1229.96 556.83,1229.95 558.54,1229.94 560.25,1229.93 561.96,1229.92 563.68,1229.91 565.39,1229.89 567.10,1229.88 568.81,1229.86 570.53,1229.83 572.24,1229.81 573.95,1229.78 575.67,1229.74 577.38,1229.71 579.09,1229.66 580.80,1229.62 582.52,1229.56 584.23,1229.50 585.94,1229.43 587.65,1229.36 589.37,1229.27 591.08,1229.18 592.79,1229.08 594.51,1228.96 596.22,1228.83 597.93,1228.69 599.64,1228.54 601.36,1228.37 603.07,1228.18 604.78,1227.98 606.49,1227.75 608.21,1227.51 609.92,1227.24 611.63,1226.95 613.35,1226.63 615.06,1226.29 616.77,1225.92 618.48,1225.52 620.20,1225.09 621.91,1224.62 623.62,1224.12 625.33,1223.58 627.05,1223.00 628.76,1222.37 630.47,1221.71 632.19,1221.00 633.90,1220.24 635.61,1219.43 637.32,1218.57 639.04,1217.66 640.75,1216.69 642.46,1215.66 644.17,1214.57 645.89,1213.42 647.60,1212.20 649.31,1210.92 651.03,1209.57 652.74,1208.15 654.45,1206.66 656.16,1205.09 657.88,1203.45 659.59,1201.73 661.30,1199.94 663.01,1198.06 664.73,1196.10 666.44,1194.06 668.15,1191.93 669.87,1189.72 671.58,1187.42 673.29,1185.04 675.00,1182.56 676.72,1180.00 678.43,1177.35 680.14,1174.61 681.85,1171.78 683.57,1168.87 685.28,1165.86 686.99,1162.76 688.71,1159.58 690.42,1156.30 692.13,1152.94 693.84,1149.49 695.56,1145.96 697.27,1142.34 698.98,1138.63 700.69,1134.85 702.41,1130.98 704.12,1127.04 705.83,1123.01 707.55,1118.92 709.26,1114.75 710.97,1110.50 712.68,1106.19 714.40,1101.82 716.11,1097.38 717.82,1092.88 719.53,1088.32 721.25,1083.70 722.96,1079.04 724.67,1074.32 726.39,1069.56 728.10,1064.76 729.81,1059.91 731.52,1055.03 733.24,1050.12 734.95,1045.18 736.66,1040.21 738.37,1035.22 740.09,1030.21 741.80,1025.19 743.51,1020.15 745.23,1015.11 746.94,1010.06 748.65,1005.01 750.36,999.97 752.08,994.93 753.79,989.90 755.50,984.89 757.21,979.90 758.93,974.92 760.64,969.97 762.35,965.05 764.07,960.16 765.78,955.31 767.49,950.49 769.20,945.72 770.92,940.99 772.63,936.31 774.34,931.68 776.05,927.10 777.77,922.58 779.48,918.12 781.19,913.72 782.91,909.38 784.62,905.12 786.33,900.92 788.04,896.79 789.76,892.74 791.47,888.77 793.18,884.87 794.89,881.06 796.61,877.32 798.32,873.68 800.03,870.11 801.75,866.64 803.46,863.25 805.17,859.96 806.88,856.75 808.60,853.64 810.31,850.62 812.02,847.70 813.73,844.87 815.45,842.14 817.16,839.50 818.87,836.96 820.59,834.53 822.30,832.18 824.01,829.94 825.72,827.80 827.44,825.76 829.15,823.81 830.86,821.97 832.57,820.22 834.29,818.58 836.00,817.03 837.71,815.58 839.43,814.23 841.14,812.97 842.85,811.82 844.56,810.76 846.28,809.79 847.99,808.92 849.70,808.15 851.42,807.46 853.13,806.88 854.84,806.38 856.55,805.97 858.27,805.65 859.98,805.43 861.69,805.28 863.40,805.23 865.12,805.26 866.83,805.37 868.54,805.57 870.26,805.85 871.97,806.21 873.68,806.65 875.39,807.16 877.11,807.75 878.82,808.42 880.53,809.16 882.24,809.97 883.96,810.85 885.67,811.80 887.38,812.82 889.10,813.90 890.81,815.05 892.52,816.26 894.23,817.54 895.95,818.87 897.66,820.26 899.37,821.71 901.08,823.21 902.80,824.77 904.51,826.38 906.22,828.04 907.94,829.75 909.65,831.51 911.36,833.32 913.07,835.17 914.79,837.06 916.50,839.00 918.21,840.97 919.92,842.99 921.64,845.05 923.35,847.14 925.06,849.26 926.78,851.42 928.49,853.62 930.20,855.84 931.91,858.09 933.63,860.37 935.34,862.68 937.05,865.02 938.76,867.38 940.48,869.76 942.19,872.17 943.90,874.60 945.62,877.04 947.33,879.51 949.04,881.99 950.75,884.49 952.47,887.01 954.18,889.54 955.89,892.08 957.60,894.64 959.32,897.20 961.03,899.78 962.74,902.37 964.46,904.96 966.17,907.56 967.88,910.17 969.59,912.79 971.31,915.41 973.02,918.03 974.73,920.66 976.44,923.29 978.16,925.92 979.87,928.55 981.58,931.18 983.30,933.81 985.01,936.44 986.72,939.07 988.43,941.70 990.15,944.32 991.86,946.94 993.57,949.55 995.28,952.16 997.00,954.76 998.71,957.36 1000.42,959.95 1002.14,962.53 1003.85,965.11 1005.56,967.67 1007.27,970.23 1008.99,972.78 1010.70,975.32 1012.41,977.85 1014.12,980.36 1015.84,982.87 1017.55,985.37 1019.26,987.85 1020.98,990.32 1022.69,992.78 1024.40,995.23 1026.11,997.67 1027.83,1000.09 1029.54,1002.50 1031.25,1004.89 1032.96,1007.27 1034.68,1009.64 1036.39,1011.99 1038.10,1014.32 1039.82,1016.65 1041.53,1018.95 1043.24,1021.24 1044.95,1023.52 1046.67,1025.78 1048.38,1028.02 1050.09,1030.25 1051.80,1032.46 1053.52,1034.66 1055.23,1036.84 1056.94,1039.00 1058.66,1041.15 1060.37,1043.28 1062.08,1045.39 1063.79,1047.49 1065.51,1049.57 1067.22,1051.63 1068.93,1053.68 1070.64,1055.70 1072.36,1057.72 1074.07,1059.71 1075.78,1061.69 1077.50,1063.65 1079.21,1065.59 1080.92,1067.52 1082.63,1069.42 1084.35,1071.31 1086.06,1073.19 1087.77,1075.05 1089.48,1076.88 1091.20,1078.71 1092.91,1080.51 1094.62,1082.30 1096.34,1084.07 1098.05,1085.83 1099.76,1087.56 1101.47,1089.28 1103.19,1090.99 1104.90,1092.67 1106.61,1094.34 1108.32,1095.99 1110.04,1097.63 1111.75,1099.25 1113.46,1100.85 1115.18,1102.44 1116.89,1104.01 1118.60,1105.57 1120.31,1107.10 1122.03,1108.63 1123.74,1110.13 1125.45,1111.62 1127.16,1113.10 1128.88,1114.56 1130.59,1116.00 1132.30,1117.43 1134.02,1118.84 1135.73,1120.23 1137.44,1121.62 1139.15,1122.98 1140.87,1124.33 1142.58,1125.67 1144.29,1126.99 1146.00,1128.30 1147.72,1129.59 1149.43,1130.87 1151.14,1132.13 1152.86,1133.38 1154.57,1134.61 1156.28,1135.83 1157.99,1137.04 1159.71,1138.23 1161.42,1139.41 1163.13,1140.58 1164.84,1141.73 1166.56,1142.87 1168.27,1143.99 1169.98,1145.10 1171.70,1146.20 1173.41,1147.29 1175.12,1148.36 1176.83,1149.42 1178.55,1150.47 1180.26,1151.51 1181.97,1152.53 1183.68,1153.54 1185.40,1154.54 1187.11,1155.53 1188.82,1156.50 1190.54,1157.46 1192.25,1158.41 1193.96,1159.35 1195.67,1160.28 1197.39,1161.20 1199.10,1162.11 1200.81,1163.00 1202.52,1163.89 1204.24,1164.76 1205.95,1165.62 1207.66,1166.47 1209.38,1167.31 1211.09,1168.14 1212.80,1168.96 1214.51,1169.77 1216.23,1170.57 1217.94,1171.36 1219.65,1172.14 1221.37,1172.92 1223.08,1173.68 1224.79,1174.43 1226.50,1175.17 1228.22,1175.90 1229.93,1176.62 1231.64,1177.34 1233.35,1178.04 1235.07,1178.74 1236.78,1179.43 1238.49,1180.10 1240.21,1180.77 1241.92,1181.44 1243.63,1182.09 1245.34,1182.73 1247.06,1183.37 1248.77,1184.00 1250.48,1184.62 1252.19,1185.23 1253.91,1185.83 1255.62,1186.43 1257.33,1187.02 1259.05,1187.60 1260.76,1188.17 1262.47,1188.74 1264.18,1189.29 1265.90,1189.85 1267.61,1190.39 1269.32,1190.93 1271.03,1191.46 1272.75,1191.98 1274.46,1192.50 1276.17,1193.01 1277.89,1193.51 1279.60,1194.00 1281.31,1194.49 1283.02,1194.98 1284.74,1195.45 1286.45,1195.92 1288.16,1196.39 1289.87,1196.85 1291.59,1197.30 1293.30,1197.75 1295.01,1198.19 1296.73,1198.62 1298.44,1199.05 1300.15,1199.47 1301.86,1199.89 1303.58,1200.30 1305.29,1200.71 1307.00,1201.11 1308.71,1201.50 1310.43,1201.89 1312.14,1202.28 1313.85,1202.66 1315.57,1203.03 1317.28,1203.40 1318.99,1203.77 1320.70,1204.13 1322.42,1204.48 1324.13,1204.83 1325.84,1205.18 1327.55,1205.52 1329.27,1205.86 1330.98,1206.19 1332.69,1206.52 1334.41,1206.84 1336.12,1207.16 1337.83,1207.47 1339.54,1207.78 1341.26,1208.09 1342.97,1208.39 1344.68,1208.69 1346.39,1208.98 1348.11,1209.27 1349.82,1209.56 1351.53,1209.84 1353.25,1210.12 1354.96,1210.39 1356.67,1210.67 1358.38,1210.93 1360.10,1211.20 1361.81,1211.46 1363.52,1211.71 1365.23,1211.96 1366.95,1212.21 1368.66,1212.46 1370.37,1212.70 1372.09,1212.94 1373.80,1213.18 1375.51,1213.41 1377.22,1213.64 1378.94,1213.87 1380.65,1214.09 1382.36,1214.31 1384.07,1214.53 1385.79,1214.74 1387.50,1214.95 1389.98,1215.26" fill="none" stroke="#0000ff" stroke-width="5.7" stroke-linejoin="round" stroke-linecap="butt" shape-rendering="crispEdges"/>
<polyline points="186.09,1230.00 188.59,1230.00 190.30,1230.00 192.01,1230.00 193.73,1230.00 195.44,1230.00 197.15,1230.00 198.86,1230.00 200.58,1230.00 202.29,1230.00 204.00,1230.00 205.72,1230.00 207.43,1230.00 209.14,1230.00 210.85,1230.00 212.57,1230.00 214.28,1230.00 215.99,1230.00 217.70,1230.00 219.42,1230.00 221.13,1230.00 222.84,1230.00 224.56,1230.00 226.27,1230.00 227.98,1230.00 229.69,1230.00 231.41,1230.00 233.12,1230.00 234.83,1230.00 236.54,1230.00 238.26,1230.00 239.97,1230.00 241.68,1230.00 243.40,1230.00 245.11,1230.00 246.82,1230.00 248.53,1230.00 250.25,1230.00 251.96,1230.00 253.67,1230.00 255.38,1230.00 257.10,1230.00 258.81,1230.00 260.52,1230.00 262.24,1230.00 263.95,1230.00 265.66,1230.00 267.37,1230.00 269.09,1230.00 270.80,1230.00 272.51,1230.00 274.22,1230.00 275.94,1230.00 277.65,1230.00 279.36,1230.00 281.08,1230.00 282.79,1230.00 284.50,1230.00 286.21,1230.00 287.93,1230.00 289.64,1230.00 291.35,1230.00 293.06,1230.00 294.78,1230.00 296.49,1230.00 298.20,1230.00 299.92,1230.00 301.63,1230.00 303.34,1230.00 305.05,1230.00 306.77,1230.00 308.48,1230.00 310.19,1230.00 311.90,1230.00 313.62,1230.00 315.33,1230.00 317.04,1230.00 318.76,1230.00 320.47,1230.00 322.18,1230.00 323.89,1230.00 325.61,1230.00 327.32,1230.00 329.03,1230.00 330.74,1230.00 332.46,1230.00 334.17,1230.00 335.88,1230.00 337.60,1230.00 339.31,1230.00 341.02,1230.00 342.73,1230.00 344.45,1230.00 346.16,1230.00 347.87,1230.00 349.58,1230.00 351.30,1230.00 353.01,1230.00 354.72,1230.00 356.44,1230.00 358.15,1230.00 359.86,1230.00 361.57,1230.00 363.29,1230.00 365.00,1230.00 366.71,1230.00 368.42,1230.00 370.14,1230.00 371.85,1230.00 373.56,1230.00 375.28,1230.00 376.99,1230.00 378.70,1230.00 380.41,1230.00 382.13,1230.00 383.84,1230.00 385.55,1230.00 387.26,1230.00 388.98,1230.00 390.69,1230.00 392.40,1230.00 394.12,1230.00 395.83,1230.00 397.54,1230.00 399.25,1230.00 400.97,1230.00 402.68,1230.00 404.39,1230.00 406.10,1230.00 407.82,1230.00 409.53,1230.00 411.24,1230.00 412.96,1229.99 414.67,1229.99 416.38,1229.99 418.09,1229.99 419.81,1229.99 421.52,1229.98 423.23,1229.98 424.94,1229.98 426.66,1229.97 428.37,1229.97 430.08,1229.96 431.80,1229.95 433.51,1229.94 435.22,1229.93 436.93,1229.92 438.65,1229.91 440.36,1229.89 442.07,1229.87 443.78,1229.85 445.50,1229.82 447.21,1229.79 448.92,1229.76 450.64,1229.72 452.35,1229.68 454.06,1229.62 455.77,1229.57 457.49,1229.50 459.20,1229.43 460.91,1229.34 462.62,1229.25 464.34,1229.14 466.05,1229.02 467.76,1228.89 469.48,1228.74 471.19,1228.57 472.90,1228.39 474.61,1228.18 476.33,1227.95 478.04,1227.70 479.75,1227.42 481.46,1227.11 483.18,1226.77 484.89,1226.40 486.60,1225.99 488.32,1225.54 490.03,1225.05 491.74,1224.52 493.45,1223.94 495.17,1223.30 496.88,1222.62 498.59,1221.87 500.31,1221.06 502.02,1220.19 503.73,1219.25 505.44,1218.24 507.16,1217.15 508.87,1215.98 510.58,1214.72 512.29,1213.38 514.01,1211.94 515.72,1210.40 517.43,1208.77 519.15,1207.02 520.86,1205.17 522.57,1203.20 524.28,1201.11 526.00,1198.89 527.71,1196.55 529.42,1194.08 531.13,1191.47 532.85,1188.72 534.56,1185.82 536.27,1182.78 537.99,1179.58 539.70,1176.22 541.41,1172.71 543.12,1169.03 544.84,1165.19 546.55,1161.17 548.26,1156.99 549.97,1152.63 551.69,1148.09 553.40,1143.37 555.11,1138.47 556.83,1133.39 558.54,1128.12 560.25,1122.67 561.96,1117.03 563.68,1111.21 565.39,1105.19 567.10,1098.99 568.81,1092.60 570.53,1086.03 572.24,1079.27 573.95,1072.32 575.67,1065.20 577.38,1057.89 579.09,1050.40 580.80,1042.74 582.52,1034.90 584.23,1026.89 585.94,1018.72 587.65,1010.38 589.37,1001.88 591.08,993.22 592.79,984.42 594.51,975.47 596.22,966.37 597.93,957.15 599.64,947.79 601.36,938.30 603.07,928.70 604.78,918.98 606.49,909.16 608.21,899.24 609.92,889.22 611.63,879.12 613.35,868.94 615.06,858.69 616.77,848.37 618.48,837.99 620.20,827.57 621.91,817.10 623.62,806.59 625.33,796.06 627.05,785.51 628.76,774.94 630.47,764.37 632.19,753.80 633.90,743.25 635.61,732.71 637.32,722.19 639.04,711.71 640.75,701.27 642.46,690.88 644.17,680.55 645.89,670.27 647.60,660.07 649.31,649.94 651.03,639.89 652.74,629.94 654.45,620.08 656.16,610.33 657.88,600.68 659.59,591.15 661.30,581.74 663.01,572.46 664.73,563.31 666.44,554.30 668.15,545.44 669.87,536.72 671.58,528.16 673.29,519.75 675.00,511.50 676.72,503.43 678.43,495.52 680.14,487.79 681.85,480.23 683.57,472.86 685.28,465.67 686.99,458.67 688.71,451.85 690.42,445.24 692.13,438.81 693.84,432.59 695.56,426.56 697.27,420.73 698.98,415.11 700.69,409.69 702.41,404.47 704.12,399.46 705.83,394.66 707.55,390.07 709.26,385.68 710.97,381.50 712.68,377.53 714.40,373.76 716.11,370.21 717.82,366.86 719.53,363.71 721.25,360.78 722.96,358.04 724.67,355.52 726.39,353.19 728.10,351.07 729.81,349.14 731.52,347.41 733.24,345.88 734.95,344.55 736.66,343.41 738.37,342.46 740.09,341.69 741.80,341.12 743.51,340.73 745.23,340.52 746.94,340.49 748.65,340.64 750.36,340.96 752.08,341.46 753.79,342.12 755.50,342.95 757.21,343.95 758.93,345.10 760.64,346.42 762.35,347.88 764.07,349.50 765.78,351.27 767.49,353.19 769.20,355.25 770.92,357.44 772.63,359.78 774.34,362.25 776.05,364.84 777.77,367.57 779.48,370.42 781.19,373.39 782.91,376.48 784.62,379.68 786.33,383.00 788.04,386.42 789.76,389.95 791.47,393.58 793.18,397.31 794.89,401.14 796.61,405.06 798.32,409.07 800.03,413.16 801.75,417.34 803.46,421.60 805.17,425.94 806.88,430.36 808.60,434.85 810.31,439.40 812.02,444.02 813.73,448.71 815.45,453.46 817.16,458.27 818.87,463.13 820.59,468.04 822.30,473.01 824.01,478.02 825.72,483.08 827.44,488.19 829.15,493.33 830.86,498.51 832.57,503.73 834.29,508.98 836.00,514.26 837.71,519.57 839.43,524.91 841.14,530.27 842.85,535.66 844.56,541.07 846.28,546.49 847.99,551.93 849.70,557.39 851.42,562.86 853.13,568.34 854.84,573.83 856.55,579.33 858.27,584.83 859.98,590.34 861.69,595.85 863.40,601.36 865.12,606.87 866.83,612.38 868.54,617.89 870.26,623.39 871.97,628.88 873.68,634.37 875.39,639.85 877.11,645.32 878.82,650.78 880.53,656.22 882.24,661.65 883.96,667.07 885.67,672.47 887.38,677.85 889.10,683.22 890.81,688.56 892.52,693.89 894.23,699.20 895.95,704.48 897.66,709.75 899.37,714.99 901.08,720.20 902.80,725.39 904.51,730.56 906.22,735.70 907.94,740.81 909.65,745.90 911.36,750.95 913.07,755.98 914.79,760.98 916.50,765.95 918.21,770.89 919.92,775.80 921.64,780.68 923.35,785.53 925.06,790.34 926.78,795.12 928.49,799.87 930.20,804.59 931.91,809.27 933.63,813.92 935.34,818.54 937.05,823.12 938.76,827.67 940.48,832.18 942.19,836.66 943.90,841.11 945.62,845.51 947.33,849.89 949.04,854.22 950.75,858.53 952.47,862.79 954.18,867.02 955.89,871.22 957.60,875.38 959.32,879.50 961.03,883.59 962.74,887.64 964.46,891.65 966.17,895.63 967.88,899.57 969.59,903.48 971.31,907.35 973.02,911.19 974.73,914.99 976.44,918.75 978.16,922.48 979.87,926.17 981.58,929.82 983.30,933.45 985.01,937.03 986.72,940.58 988.43,944.10 990.15,947.58 991.86,951.02 993.57,954.43 995.28,957.81 997.00,961.15 998.71,964.45 1000.42,967.73 1002.14,970.96 1003.85,974.17 1005.56,977.34 1007.27,980.48 1008.99,983.58 1010.70,986.65 1012.41,989.69 1014.12,992.70 1015.84,995.67 1017.55,998.61 1019.26,1001.52 1020.98,1004.40 1022.69,1007.25 1024.40,1010.06 1026.11,1012.84 1027.83,1015.60 1029.54,1018.32 1031.25,1021.01 1032.96,1023.67 1034.68,1026.30 1036.39,1028.90 1038.10,1031.47 1039.82,1034.01 1041.53,1036.53 1043.24,1039.01 1044.95,1041.46 1046.67,1043.89 1048.38,1046.29 1050.09,1048.66 1051.80,1051.00 1053.52,1053.32 1055.23,1055.61 1056.94,1057.87 1058.66,1060.10 1060.37,1062.31 1062.08,1064.49 1063.79,1066.65 1065.51,1068.78 1067.22,1070.89 1068.93,1072.97 1070.64,1075.02 1072.36,1077.05 1074.07,1079.05 1075.78,1081.04 1077.50,1082.99 1079.21,1084.93 1080.92,1086.84 1082.63,1088.72 1084.35,1090.58 1086.06,1092.42 1087.77,1094.24 1089.48,1096.04 1091.20,1097.81 1092.91,1099.56 1094.62,1101.29 1096.34,1103.00 1098.05,1104.68 1099.76,1106.35 1101.47,1107.99 1103.19,1109.62 1104.90,1111.22 1106.61,1112.81 1108.32,1114.37 1110.04,1115.91 1111.75,1117.44 1113.46,1118.94 1115.18,1120.43 1116.89,1121.90 1118.60,1123.34 1120.31,1124.77 1122.03,1126.19 1123.74,1127.58 1125.45,1128.96 1127.16,1130.31 1128.88,1131.65 1130.59,1132.98 1132.30,1134.29 1134.02,1135.58 1135.73,1136.85 1137.44,1138.11 1139.15,1139.35 1140.87,1140.57 1142.58,1141.78 1144.29,1142.97 1146.00,1144.15 1147.72,1145.31 1149.43,1146.46 1151.14,1147.59 1152.86,1148.71 1154.57,1149.81 1156.28,1150.90 1157.99,1151.97 1159.71,1153.03 1161.42,1154.08 1163.13,1155.11 1164.84,1156.13 1166.56,1157.14 1168.27,1158.13 1169.98,1159.11 1171.70,1160.07 1173.41,1161.03 1175.12,1161.97 1176.83,1162.90 1178.55,1163.81 1180.26,1164.72 1181.97,1165.61 1183.68,1166.49 1185.40,1167.36 1187.11,1168.21 1188.82,1169.06 1190.54,1169.89 1192.25,1170.72 1193.96,1171.53 1195.67,1172.33 1197.39,1173.12 1199.10,1173.90 1200.81,1174.67 1202.52,1175.43 1204.24,1176.18 1205.95,1176.92 1207.66,1177.65 1209.38,1178.37 1211.09,1179.08 1212.80,1179.78 1214.51,1180.47 1216.23,1181.15 1217.94,1181.82 1219.65,1182.49 1221.37,1183.14 1223.08,1183.79 1224.79,1184.42 1226.50,1185.05 1228.22,1185.67 1229.93,1186.28 1231.64,1186.88 1233.35,1187.48 1235.07,1188.07 1236.78,1188.64 1238.49,1189.22 1240.21,1189.78 1241.92,1190.33 1243.63,1190.88 1245.34,1191.42 1247.06,1191.96 1248.77,1192.48 1250.48,1193.00 1252.19,1193.51 1253.91,1194.02 1255.62,1194.52 1257.33,1195.01 1259.05,1195.49 1260.76,1195.97 1262.47,1196.44 1264.18,1196.91 1265.90,1197.36 1267.61,1197.82 1269.32,1198.26 1271.03,1198.70 1272.75,1199.14 1274.46,1199.56 1276.17,1199.99 1277.89,1200.40 1279.60,1200.81 1281.31,1201.22 1283.02,1201.62 1284.74,1202.01 1286.45,1202.40 1288.16,1202.78 1289.87,1203.16 1291.59,1203.54 1293.30,1203.90 1295.01,1204.27 1296.73,1204.62 1298.44,1204.98 1300.15,1205.32 1301.86,1205.67 1303.58,1206.01 1305.29,1206.34 1307.00,1206.67 1308.71,1206.99 1310.43,1207.31 1312.14,1207.63 1313.85,1207.94 1315.57,1208.25 1317.28,1208.55 1318.99,1208.85 1320.70,1209.14 1322.42,1209.43 1324.13,1209.72 1325.84,1210.00 1327.55,1210.28 1329.27,1210.56 1330.98,1210.83 1332.69,1211.09 1334.41,1211.36 1336.12,1211.62 1337.83,1211.87 1339.54,1212.13 1341.26,1212.38 1342.97,1212.62 1344.68,1212.86 1346.39,1213.10 1348.11,1213.34 1349.82,1213.57 1351.53,1213.80 1353.25,1214.03 1354.96,1214.25 1356.67,1214.47 1358.38,1214.69 1360.10,1214.90 1361.81,1215.11 1363.52,1215.32 1365.23,1215.52 1366.95,1215.73 1368.66,1215.93 1370.37,1216.12 1372.09,1216.32 1373.80,1216.51 1375.51,1216.70 1377.22,1216.88 1378.94,1217.06 1380.65,1217.25 1382.36,1217.42 1384.07,1217.60 1385.79,1217.77 1387.50,1217.94 1389.99,1218.19" fill="none" stroke="#ff00ff" stroke-width="5.7" stroke-linejoin="round" stroke-linecap="butt" shape-rendering="crispEdges"/>
<text transform="translate(148.92,1247.00) scale(1,1.3494)" font-size="41.50" fill="#262626">0</text>
<text transform="translate(114.31,1132.29) scale(1,1.3494)" font-size="41.50" fill="#262626">0</text>
<text transform="translate(137.39,1132.29) scale(1,1.3494)" font-size="41.50" fill="#262626">.</text>
<text transform="translate(148.92,1132.29) scale(1,1.3494)" font-size="41.50" fill="#262626">2</text>
<text transform="translate(114.31,1017.58) scale(1,1.3494)" font-size="41.50" fill="#262626">0</text>
<text transform="translate(137.39,1017.58) scale(1,1.3494)" font-size="41.50" fill="#262626">.</text>
<text transform="translate(148.92,1017.58) scale(1,1.3494)" font-size="41.50" fill="#262626">4</text>
<text transform="translate(114.31,902.87) scale(1,1.3494)" font-size="41.50" fill="#262626">0</text>
<text transform="translate(137.39,902.87) scale(1,1.3494)" font-size="41.50" fill="#262626">.</text>
<text transform="translate(148.92,902.87) scale(1,1.3494)" font-size="41.50" fill="#262626">6</text>
<text transform="translate(114.31,788.16) scale(1,1.3494)" font-size="41.50" fill="#262626">0</text>
<text transform="translate(137.39,788.16) scale(1,1.3494)" font-size="41.50" fill="#262626">.</text>
<text transform="translate(148.92,788.16) scale(1,1.3494)" font-size="41.50" fill="#262626">8</text>
<polygon points="163.72,673.45 159.72,673.45 159.72,643.05 152.72,648.55 152.72,643.75 161.12,634.55 163.72,634.55" fill="#262626"/>
<polygon points="129.11,558.74 125.11,558.74 125.11,528.34 118.11,533.84 118.11,529.04 126.51,519.84 129.11,519.84" fill="#262626"/>
<text transform="translate(137.39,558.74) scale(1,1.3494)" font-size="41.50" fill="#262626">.</text>
<text transform="translate(148.92,558.74) scale(1,1.3494)" font-size="41.50" fill="#262626">2</text>
<polygon points="129.11,444.03 125.11,444.03 125.11,413.63 118.11,419.13 118.11,414.33 126.51,405.13 129.11,405.13" fill="#262626"/>
<text transform="translate(137.39,444.03) scale(1,1.3494)" font-size="41.50" fill="#262626">.</text>
<text transform="translate(148.92,444.03) scale(1,1.3494)" font-size="41.50" fill="#262626">4</text>
<polygon points="129.11,329.32 125.11,329.32 125.11,298.92 118.11,304.42 118.11,299.62 126.51,290.42 129.11,290.42" fill="#262626"/>
<text transform="translate(137.39,329.32) scale(1,1.3494)" font-size="41.50" fill="#262626">.</text>
<text transform="translate(148.92,329.32) scale(1,1.3494)" font-size="41.50" fill="#262626">6</text>
<polygon points="129.11,214.61 125.11,214.61 125.11,184.21 118.11,189.71 118.11,184.91 126.51,175.71 129.11,175.71" fill="#262626"/>
<text transform="translate(137.39,214.61) scale(1,1.3494)" font-size="41.50" fill="#262626">.</text>
<text transform="translate(148.92,214.61) scale(1,1.3494)" font-size="41.50" fill="#262626">8</text>
<text transform="translate(148.92,99.90) scale(1,1.3494)" font-size="41.50" fill="#262626">2</text>
<polygon points="249.80,1303.90 245.80,1303.90 245.80,1273.50 238.80,1279.00 238.80,1274.20 247.20,1265.00 249.80,1265.00" fill="#262626"/>
<text transform="translate(258.08,1303.90) scale(1,1.3494)" font-size="41.50" fill="#262626">0</text>
<text transform="translate(283.50,1278.80) scale(1,1.3591)" font-size="29.80" fill="#262626">2</text>
<polygon points="528.90,1303.90 524.90,1303.90 524.90,1273.50 517.90,1279.00 517.90,1274.20 526.30,1265.00 528.90,1265.00" fill="#262626"/>
<text transform="translate(537.18,1303.90) scale(1,1.3494)" font-size="41.50" fill="#262626">0</text>
<text transform="translate(563.87,1278.80) scale(1,1.3591)" font-size="29.80" fill="#262626">3</text>
<polygon points="809.00,1303.90 805.00,1303.90 805.00,1273.50 798.00,1279.00 798.00,1274.20 806.40,1265.00 809.00,1265.00" fill="#262626"/>
<text transform="translate(817.28,1303.90) scale(1,1.3494)" font-size="41.50" fill="#262626">0</text>
<text transform="translate(844.22,1278.80) scale(1,1.3591)" font-size="29.80" fill="#262626">4</text>
<polygon points="1088.00,1303.90 1084.00,1303.90 1084.00,1273.50 1077.00,1279.00 1077.00,1274.20 1085.40,1265.00 1088.00,1265.00" fill="#262626"/>
<text transform="translate(1096.28,1303.90) scale(1,1.3494)" font-size="41.50" fill="#262626">0</text>
<text transform="translate(1122.81,1278.80) scale(1,1.3591)" font-size="29.80" fill="#262626">5</text>
<polygon points="1367.50,1303.90 1363.50,1303.90 1363.50,1273.50 1356.50,1279.00 1356.50,1274.20 1364.90,1265.00 1367.50,1265.00" fill="#262626"/>
<text transform="translate(1375.78,1303.90) scale(1,1.3494)" font-size="41.50" fill="#262626">0</text>
<text transform="translate(1402.49,1278.80) scale(1,1.3591)" font-size="29.80" fill="#262626">6</text>
<path d="M195.1,46.1 L215.7,72.5 M195.1,72.5 L215.7,46.1" stroke="#262626" stroke-width="1.7" fill="none"/>
<polygon points="238.00,72.90 234.00,72.90 234.00,42.50 227.00,48.00 227.00,43.20 235.40,34.00 238.00,34.00" fill="#262626"/>
<text transform="translate(246.28,72.90) scale(1,1.3494)" font-size="41.50" fill="#262626">0</text>
<text transform="translate(272.98,48.00) scale(1,1.3591)" font-size="29.80" fill="#262626">-</text>
<text transform="translate(282.90,48.00) scale(1,1.3591)" font-size="29.80" fill="#262626">4</text>
<rect x="912" y="153.9" width="88" height="5.9" fill="#0000ff"/>
<rect x="912" y="298.0" width="88" height="5.9" fill="#ff00ff"/>
<text transform="translate(1011.32,173.80) scale(1,1.3325)" font-size="42.40" fill="#000000">F</text>
<text transform="translate(1037.22,173.80) scale(1,1.3325)" font-size="42.40" fill="#000000">A</text>
<text transform="translate(1065.50,173.80) scale(1,1.3325)" font-size="42.40" fill="#000000">S</text>
<text transform="translate(1093.78,173.80) scale(1,1.3325)" font-size="42.40" fill="#000000">E</text>
<text transform="translate(1122.06,173.80) scale(1,1.3325)" font-size="42.40" fill="#000000">R</text>
<text transform="translate(1011.52,317.90) scale(1,1.3325)" font-size="42.40" fill="#000000">M</text>
<text transform="translate(1046.84,317.90) scale(1,1.3325)" font-size="42.40" fill="#000000">a</text>
<text transform="translate(1070.42,317.90) scale(1,1.3325)" font-size="42.40" fill="#000000">p</text>
<text transform="translate(1094.00,317.90) scale(1,1.3325)" font-size="42.40" fill="#000000">p</text>
<text transform="translate(269.01,171.00) scale(1,1.3214)" font-size="42.00" fill="#000000">m</text>
<path d="M316.01,179.83 L319.39,179.83 Q322.33,180.66 323.01,184.48 L323.01,188.13 Q321.74,192.28 317.33,194.77 L313.51,194.77 Q310.28,193.61 309.89,190.62 L309.89,186.47 Q311.45,182.32 316.01,179.83 Z" fill="none" stroke="#000000" stroke-width="1.8" stroke-linejoin="round"/><line x1="319.4" y1="169.2" x2="313.4" y2="203.5" stroke="#000000" stroke-width="1.3"/>
<rect x="340" y="144.2" width="20" height="4.6" fill="#000"/><rect x="340" y="155.2" width="20" height="4.6" fill="#000"/>
<text transform="translate(375.26,171.00) scale(1,1.3214)" font-size="42.00" fill="#000000">0</text>
<text transform="translate(398.07,171.00) scale(1,1.3214)" font-size="42.00" fill="#000000">.</text>
<text transform="translate(410.03,171.00) scale(1,1.3214)" font-size="42.00" fill="#000000">9</text>
<text transform="translate(431.99,171.00) scale(1,1.3214)" font-size="42.00" fill="#000000">2</text>
<text transform="translate(467.89,171.00) scale(1,1.3214)" font-size="42.00" fill="#000000">G</text>
<text transform="translate(500.56,171.00) scale(1,1.3214)" font-size="42.00" fill="#000000">e</text>
<text transform="translate(523.92,171.00) scale(1,1.3214)" font-size="42.00" fill="#000000">V</text>
<path d="M609.71,138.86 L609.71,149.31 L609.03,152.4 L608.28,155.02 L607.74,157.51 L606.93,159.77 L605.57,162.86 L603.4,166.66 L601.43,169.27 L600.15,170.7 L596.35,170.7 L595.06,169.27 L594.18,167.61 L593.64,165.47 L593.09,162.26 L593.09,157.87 L593.64,152.17 L594.38,149.55 L595.06,146.11 L596.55,142.9 L598.72,139.1 L600.89,135.3 L602.65,133.75 L602.99,132.8 L606.99,132.8 L607.94,134.35 L609.03,136.25 Z M607.2,136.01 L607.2,144.56 L606.38,148.84 L605.71,151.81 L605.03,156.56 L603.74,159.77 L603.06,162.86 L601.57,166.07 L600.15,168.56 L596.89,168.56 L596.15,167.02 L596.15,156.56 L596.89,152.76 L597.43,148.36 L598.72,145.16 L599.6,141.95 L600.89,138.86 L602.32,135.65 L603.2,134.82 L606.32,134.82 Z" fill="#000" fill-rule="evenodd"/>
<line x1="596.4" y1="152.4" x2="605.8" y2="152.4" stroke="#000" stroke-width="1.3"/>
<path d="M622.91,179.75 L626.29,179.75 Q629.23,180.59 629.91,184.48 L629.91,188.20 Q628.64,192.42 624.23,194.96 L620.41,194.96 Q617.18,193.77 616.79,190.73 L616.79,186.50 Q618.35,182.28 622.91,179.75 Z" fill="none" stroke="#000000" stroke-width="1.8" stroke-linejoin="round"/><line x1="626.5" y1="169.2" x2="620.5" y2="203.5" stroke="#000000" stroke-width="1.3"/>
<rect x="646.9" y="144.1" width="20.4" height="4.6" fill="#000"/><rect x="646.9" y="155.3" width="20.4" height="4.6" fill="#000"/>
<polygon points="695.83,171.00 691.78,171.00 691.78,140.87 684.70,146.32 684.70,141.56 693.20,132.45 695.83,132.45" fill="#000000"/>
<text transform="translate(704.17,171.00) scale(1,1.3214)" font-size="42.00" fill="#000000">.</text>
<text transform="translate(716.40,171.00) scale(1,1.3214)" font-size="42.00" fill="#000000">3</text>
<polygon points="765.83,171.00 761.78,171.00 761.78,140.87 754.70,146.32 754.70,141.56 763.20,132.45 765.83,132.45" fill="#000000"/>
<text transform="translate(775.66,171.00) scale(1,1.3214)" font-size="42.00" fill="#000000">0</text>
<text transform="translate(800.68,147.10) scale(1,1.3591)" font-size="29.80" fill="#000000">-</text>
<text transform="translate(812.22,147.10) scale(1,1.3591)" font-size="29.80" fill="#000000">4</text>
<text transform="translate(735.91,1362.80) scale(1,1.2827)" font-size="47.40" fill="#262626">E</text>
<text transform="translate(808.42,1362.80) scale(1,1.2827)" font-size="47.40" fill="#262626">G</text>
<text transform="translate(844.79,1362.80) scale(1,1.2827)" font-size="47.40" fill="#262626">e</text>
<text transform="translate(869.49,1362.80) scale(1,1.2827)" font-size="47.40" fill="#262626">V</text>
<text transform="translate(794.11,1362.80) scale(1,1.2858)" font-size="45.03" fill="#262626">(</text>
<text transform="translate(901.54,1362.80) scale(1,1.2858)" font-size="45.03" fill="#262626">)</text>
<path d="M780.95,1373.94 L784.79,1373.94 Q788.13,1374.89 788.90,1379.24 L788.90,1383.39 Q787.46,1388.12 782.45,1390.96 L778.11,1390.96 Q774.44,1389.63 774.00,1386.23 L774.00,1381.51 Q775.77,1376.78 780.95,1373.94 Z" fill="none" stroke="#262626" stroke-width="1.6" stroke-linejoin="round"/><line x1="785.6" y1="1362" x2="779.4" y2="1393" stroke="#262626" stroke-width="1.3"/>
<text transform="translate(78.00,820.42) rotate(-90) scale(1.2182,1)" font-size="47.20" fill="#262626">P</text>
<text transform="translate(55.00,776.54) rotate(-90) scale(1.2799,1)" font-size="34.30" fill="#262626">d</text>
<text transform="translate(55.00,751.56) rotate(-90) scale(1.2799,1)" font-size="34.30" fill="#262626">e</text>
<text transform="translate(55.00,727.56) rotate(-90) scale(1.2799,1)" font-size="34.30" fill="#262626">t</text>
<text transform="translate(77.60,696.19) rotate(-90) scale(1.2179,1)" font-size="44.85" fill="#262626">(</text>
<text transform="translate(78.00,676.42) rotate(-90) scale(1.2182,1)" font-size="47.20" fill="#262626">E</text>
<text transform="translate(79.10,605.07) rotate(-90) scale(1.2182,1)" font-size="47.20" fill="#262626">,</text>
<text transform="translate(77.60,509.72) rotate(-90) scale(1.2179,1)" font-size="44.85" fill="#262626">)</text>
<ellipse cx="93.4" cy="620.5" rx="6.6" ry="10.6" transform="rotate(-8 93.4 620.5)" fill="none" stroke="#262626" stroke-width="1.8"/>
<line x1="78.1" y1="615.1" x2="108" y2="625.3" stroke="#262626" stroke-width="1.4"/>
<path d="M51.1,543.1 L59.9,543.1 L62.5,544.1 L64.7,545.2 L66.8,546.0 L68.7,547.2 L71.3,549.2 L74.5,552.4 L76.7,555.3 L77.9,557.2 L77.9,562.8 L76.7,564.7 L75.3,566.0 L73.5,566.8 L70.8,567.6 L67.1,567.6 L62.3,566.8 L60.1,565.7 L57.2,564.7 L54.5,562.5 L51.3,559.3 L48.1,556.1 L46.8,553.5 L46.0,553.0 L46.0,547.1 L47.3,545.7 L48.9,544.1 Z M48.7,546.8 L55.9,546.8 L59.5,548.0 L62.0,549.0 L66.0,550.0 L68.7,551.9 L71.3,552.9 L74.0,555.1 L76.1,557.2 L76.1,562.0 L74.8,563.1 L66.0,563.1 L62.8,562.0 L59.1,561.2 L56.4,559.3 L53.7,558.0 L51.1,556.1 L48.4,554.0 L47.7,552.7 L47.7,548.1 Z" fill="#262626" fill-rule="evenodd"/>
<line x1="61.95" y1="548.0" x2="61.95" y2="563" stroke="#262626" stroke-width="1.7"/>
<path d="M88.1,515.3 L95.6,520.4 M98.3,515.2 C100.3,516.5 100.9,518 100.5,520.2 L99.5,521.6 M100.0,521.3 L90.0,521.2 C88,521.6 86.5,523.5 86.4,526 L86.4,530.3 C87,533.5 90,536.5 93.5,537.9 L97.5,537.9 C99.5,537 100.5,535.5 100.5,533.5 L100.5,528.5 L99.3,522" fill="none" stroke="#262626" stroke-width="1.5"/>
<path d="M88.8,521.5 L100,521.5 M91.5,537.3 L98.2,537.3" fill="none" stroke="#262626" stroke-width="2.4"/>
</svg>
</body></html>
